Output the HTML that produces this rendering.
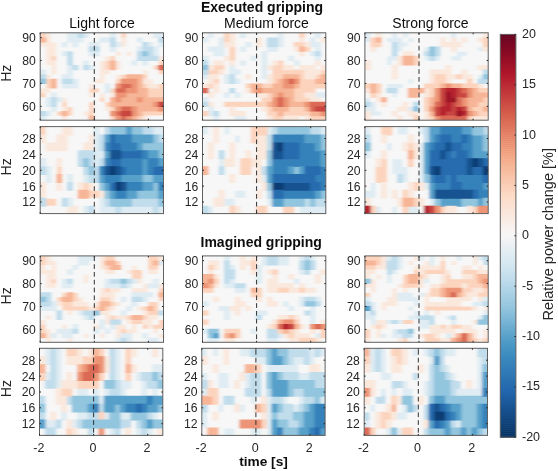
<!DOCTYPE html>
<html><head><meta charset="utf-8"><style>
html,body{margin:0;padding:0;background:#fff;width:558px;height:471px;overflow:hidden}
svg{display:block;filter:blur(0.45px)}
text{font-family:"Liberation Sans",sans-serif;fill:#262626}
</style></head><body>
<svg width="558" height="471" viewBox="0 0 558 471">
<defs><filter id="bl" x="-5%" y="-5%" width="110%" height="110%"><feGaussianBlur stdDeviation="1.4 0.45"/></filter></defs>
<g><clipPath id="cp00"><rect x="40.20" y="32.80" width="123.30" height="87.40"/></clipPath><g clip-path="url(#cp00)"><g filter="url(#bl)"><g transform="translate(40.20 32.80) scale(5.3609 4.6000)"><path fill="#fcd4be" d="M-1 -1h2.12v2.12h-2.12zM15 -1h1.12v2.12h-1.12zM2 5h1.12v1.12h-1.12zM13 5h1.12v1.12h-1.12zM12 6h1.12v1.12h-1.12zM22 6h2.12v1.12h-2.12zM12 7h1.12v1.12h-1.12zM21 7h1.12v1.12h-1.12zM22 8h2.12v1.12h-2.12zM15 9h1.12v1.12h-1.12zM19 9h1.12v1.12h-1.12zM1 10h1.12v1.12h-1.12zM14 10h1.12v1.12h-1.12zM1 11h1.12v1.12h-1.12zM19 11h1.12v1.12h-1.12zM22 11h2.12v1.12h-2.12zM9 12h2.12v1.12h-2.12zM13 12h1.12v1.12h-1.12zM20 12h4.12v1.12h-4.12zM-1 13h2.12v1.12h-2.12zM20 13h4.12v1.12h-4.12zM11 14h1.12v1.12h-1.12zM4 15h1.12v1.12h-1.12zM9 15h1.12v1.12h-1.12zM12 15h1.12v1.12h-1.12zM5 16h1.12v1.12h-1.12zM9 16h1.12v1.12h-1.12zM13 16h1.12v1.12h-1.12zM3 17h1.12v1.12h-1.12zM5 17h1.12v1.12h-1.12zM9 17h1.12v1.12h-1.12zM19 17h5.12v1.12h-5.12zM13 18h1.12v2.12h-1.12zM18 18h1.12v2.12h-1.12z"/><path fill="#fae8dd" d="M1 -1h1.12v2.12h-1.12zM1 1h1.12v1.12h-1.12zM15 1h1.12v1.12h-1.12zM-1 2h4.12v1.12h-4.12zM15 2h1.12v1.12h-1.12zM1 3h2.12v1.12h-2.12zM1 4h2.12v1.12h-2.12zM14 4h1.12v1.12h-1.12zM16 4h1.12v1.12h-1.12zM1 5h1.12v1.12h-1.12zM12 5h1.12v1.12h-1.12zM22 5h2.12v1.12h-2.12zM1 6h2.12v1.12h-2.12zM11 6h1.12v1.12h-1.12zM14 6h1.12v1.12h-1.12zM2 7h1.12v1.12h-1.12zM11 7h1.12v1.12h-1.12zM14 7h1.12v1.12h-1.12zM2 8h1.12v1.12h-1.12zM11 8h2.12v1.12h-2.12zM19 8h1.12v1.12h-1.12zM1 9h1.12v1.12h-1.12zM11 9h1.12v1.12h-1.12zM14 9h1.12v1.12h-1.12zM10 10h2.12v1.12h-2.12zM19 10h2.12v1.12h-2.12zM9 11h1.12v1.12h-1.12zM20 11h2.12v1.12h-2.12zM-1 12h3.12v1.12h-3.12zM9 13h1.12v1.12h-1.12zM11 13h1.12v1.12h-1.12zM13 13h1.12v1.12h-1.12zM4 14h1.12v1.12h-1.12zM4 16h1.12v1.12h-1.12zM12 16h1.12v1.12h-1.12zM8 17h1.12v1.12h-1.12zM4 18h1.12v2.12h-1.12zM19 18h1.12v2.12h-1.12z"/><path fill="#f7f7f7" d="M2 -1h3.12v2.12h-3.12zM9 -1h4.12v2.12h-4.12zM14 -1h1.12v2.12h-1.12zM16 -1h5.12v2.12h-5.12zM2 1h3.12v1.12h-3.12zM8 1h3.12v1.12h-3.12zM14 1h1.12v1.12h-1.12zM16 1h2.12v1.12h-2.12zM19 1h3.12v1.12h-3.12zM3 2h1.12v1.12h-1.12zM5 2h1.12v1.12h-1.12zM7 2h2.12v1.12h-2.12zM11 2h2.12v1.12h-2.12zM16 2h3.12v1.12h-3.12zM21 2h1.12v1.12h-1.12zM-1 3h2.12v1.12h-2.12zM3 3h6.12v1.12h-6.12zM11 3h2.12v1.12h-2.12zM14 3h4.12v1.12h-4.12zM22 3h2.12v1.12h-2.12zM-1 4h2.12v1.12h-2.12zM3 4h1.12v1.12h-1.12zM6 4h3.12v1.12h-3.12zM11 4h3.12v1.12h-3.12zM15 4h1.12v1.12h-1.12zM17 4h1.12v1.12h-1.12zM22 4h2.12v1.12h-2.12zM-1 5h2.12v1.12h-2.12zM3 5h2.12v1.12h-2.12zM6 5h6.12v1.12h-6.12zM14 5h4.12v1.12h-4.12zM-1 6h2.12v1.12h-2.12zM3 6h2.12v1.12h-2.12zM6 6h2.12v1.12h-2.12zM9 6h2.12v1.12h-2.12zM15 6h2.12v1.12h-2.12zM18 6h1.12v1.12h-1.12zM20 6h2.12v1.12h-2.12zM-1 7h3.12v1.12h-3.12zM3 7h2.12v1.12h-2.12zM7 7h1.12v1.12h-1.12zM10 7h1.12v1.12h-1.12zM15 7h6.12v1.12h-6.12zM1 8h1.12v1.12h-1.12zM3 8h2.12v1.12h-2.12zM6 8h5.12v1.12h-5.12zM13 8h6.12v1.12h-6.12zM20 8h2.12v1.12h-2.12zM2 9h2.12v1.12h-2.12zM6 9h5.12v1.12h-5.12zM12 9h2.12v1.12h-2.12zM20 9h4.12v1.12h-4.12zM3 10h1.12v1.12h-1.12zM7 10h3.12v1.12h-3.12zM12 10h2.12v1.12h-2.12zM21 10h3.12v1.12h-3.12zM-1 11h2.12v1.12h-2.12zM3 11h1.12v1.12h-1.12zM7 11h2.12v1.12h-2.12zM10 11h2.12v1.12h-2.12zM13 11h1.12v1.12h-1.12zM2 12h7.12v1.12h-7.12zM11 12h1.12v1.12h-1.12zM1 13h1.12v1.12h-1.12zM3 13h6.12v1.12h-6.12zM10 13h1.12v1.12h-1.12zM12 13h1.12v1.12h-1.12zM-1 14h2.12v1.12h-2.12zM5 14h6.12v1.12h-6.12zM12 14h1.12v1.12h-1.12zM-1 15h2.12v1.12h-2.12zM3 15h1.12v1.12h-1.12zM5 15h4.12v1.12h-4.12zM10 15h2.12v1.12h-2.12zM-1 16h3.12v1.12h-3.12zM3 16h1.12v1.12h-1.12zM6 16h3.12v1.12h-3.12zM10 16h2.12v1.12h-2.12zM2 17h1.12v1.12h-1.12zM6 17h2.12v1.12h-2.12zM10 17h3.12v1.12h-3.12zM1 18h3.12v2.12h-3.12zM5 18h4.12v2.12h-4.12zM10 18h3.12v2.12h-3.12zM20 18h4.12v2.12h-4.12z"/><path fill="#dfecf3" d="M5 -1h2.12v2.12h-2.12zM8 -1h1.12v2.12h-1.12zM13 -1h1.12v2.12h-1.12zM21 -1h3.12v2.12h-3.12zM5 1h3.12v1.12h-3.12zM11 1h2.12v1.12h-2.12zM18 1h1.12v1.12h-1.12zM4 2h1.12v1.12h-1.12zM6 2h1.12v1.12h-1.12zM9 2h2.12v1.12h-2.12zM14 2h1.12v1.12h-1.12zM20 2h1.12v1.12h-1.12zM22 2h2.12v1.12h-2.12zM13 3h1.12v1.12h-1.12zM18 3h1.12v1.12h-1.12zM21 3h1.12v1.12h-1.12zM4 4h1.12v1.12h-1.12zM9 4h2.12v1.12h-2.12zM21 4h1.12v1.12h-1.12zM8 6h1.12v1.12h-1.12zM17 6h1.12v1.12h-1.12zM19 6h1.12v1.12h-1.12zM5 7h1.12v1.12h-1.12zM9 7h1.12v1.12h-1.12zM-1 8h2.12v1.12h-2.12zM5 8h1.12v1.12h-1.12zM4 9h2.12v1.12h-2.12zM6 10h1.12v1.12h-1.12zM4 11h3.12v1.12h-3.12zM12 11h1.12v1.12h-1.12zM12 12h1.12v1.12h-1.12zM2 13h1.12v1.12h-1.12zM1 14h1.12v1.12h-1.12zM3 14h1.12v1.12h-1.12zM1 15h1.12v1.12h-1.12zM2 16h1.12v1.12h-1.12zM1 17h1.12v1.12h-1.12zM-1 18h2.12v2.12h-2.12z"/><path fill="#c1ddec" d="M7 -1h1.12v2.12h-1.12zM13 1h1.12v1.12h-1.12zM22 1h2.12v1.12h-2.12zM13 2h1.12v1.12h-1.12zM19 2h1.12v1.12h-1.12zM9 3h2.12v1.12h-2.12zM19 3h2.12v1.12h-2.12zM5 4h1.12v1.12h-1.12zM18 4h1.12v1.12h-1.12zM20 4h1.12v1.12h-1.12zM5 5h1.12v1.12h-1.12zM18 5h4.12v1.12h-4.12zM5 6h1.12v1.12h-1.12zM6 7h1.12v1.12h-1.12zM8 7h1.12v1.12h-1.12zM-1 9h2.12v1.12h-2.12zM4 10h2.12v1.12h-2.12zM2 14h1.12v1.12h-1.12zM2 15h1.12v1.12h-1.12zM-1 17h2.12v1.12h-2.12z"/><path fill="#f7b597" d="M-1 1h2.12v1.12h-2.12zM13 6h1.12v1.12h-1.12zM13 7h1.12v1.12h-1.12zM16 9h3.12v1.12h-3.12zM2 10h1.12v1.12h-1.12zM18 10h1.12v1.12h-1.12zM2 11h1.12v1.12h-1.12zM18 11h1.12v1.12h-1.12zM18 12h2.12v1.12h-2.12zM16 13h4.12v1.12h-4.12zM13 14h1.12v1.12h-1.12zM15 14h3.12v1.12h-3.12zM19 14h5.12v1.12h-5.12zM13 15h8.12v1.12h-8.12zM18 16h4.12v1.12h-4.12zM4 17h1.12v1.12h-1.12zM18 17h1.12v1.12h-1.12zM9 18h1.12v2.12h-1.12zM17 18h1.12v2.12h-1.12z"/><path fill="#92c5de" d="M19 4h1.12v1.12h-1.12zM-1 10h2.12v1.12h-2.12z"/><path fill="#da6954" d="M22 7h2.12v1.12h-2.12zM15 11h2.12v1.12h-2.12zM14 12h2.12v1.12h-2.12zM15 16h2.12v1.12h-2.12zM14 17h1.12v1.12h-1.12zM15 18h1.12v2.12h-1.12z"/><path fill="#ec9475" d="M15 10h3.12v1.12h-3.12zM14 11h1.12v1.12h-1.12zM17 11h1.12v1.12h-1.12zM16 12h2.12v1.12h-2.12zM14 13h2.12v1.12h-2.12zM14 14h1.12v1.12h-1.12zM18 14h1.12v1.12h-1.12zM21 15h1.12v1.12h-1.12zM14 16h1.12v1.12h-1.12zM17 16h1.12v1.12h-1.12zM22 16h2.12v1.12h-2.12zM13 17h1.12v1.12h-1.12zM17 17h1.12v1.12h-1.12zM14 18h1.12v2.12h-1.12zM16 18h1.12v2.12h-1.12z"/><path fill="#c84540" d="M22 15h2.12v1.12h-2.12zM15 17h2.12v1.12h-2.12z"/></g></g></g><clipPath id="cp01"><rect x="202.50" y="32.80" width="123.30" height="87.40"/></clipPath><g clip-path="url(#cp01)"><g filter="url(#bl)"><g transform="translate(202.50 32.80) scale(5.3609 4.6000)"><path fill="#f7f7f7" d="M-1 -1h2.12v2.12h-2.12zM2 -1h2.12v2.12h-2.12zM6 -1h1.12v2.12h-1.12zM8 -1h6.12v2.12h-6.12zM15 -1h3.12v2.12h-3.12zM19 -1h2.12v2.12h-2.12zM22 -1h2.12v2.12h-2.12zM1 1h2.12v1.12h-2.12zM6 1h4.12v1.12h-4.12zM11 1h1.12v1.12h-1.12zM15 1h3.12v1.12h-3.12zM19 1h1.12v1.12h-1.12zM21 1h1.12v1.12h-1.12zM-1 2h4.12v1.12h-4.12zM6 2h2.12v1.12h-2.12zM9 2h1.12v1.12h-1.12zM11 2h1.12v1.12h-1.12zM15 2h2.12v1.12h-2.12zM22 2h2.12v1.12h-2.12zM-1 3h2.12v1.12h-2.12zM4 3h1.12v1.12h-1.12zM6 3h1.12v1.12h-1.12zM8 3h4.12v1.12h-4.12zM14 3h3.12v1.12h-3.12zM20 3h1.12v1.12h-1.12zM22 3h2.12v1.12h-2.12zM-1 4h3.12v1.12h-3.12zM4 4h1.12v1.12h-1.12zM6 4h5.12v1.12h-5.12zM12 4h6.12v1.12h-6.12zM19 4h1.12v1.12h-1.12zM22 4h2.12v1.12h-2.12zM1 5h3.12v1.12h-3.12zM6 5h3.12v1.12h-3.12zM10 5h1.12v1.12h-1.12zM12 5h4.12v1.12h-4.12zM17 5h4.12v1.12h-4.12zM22 5h2.12v1.12h-2.12zM1 6h1.12v1.12h-1.12zM4 6h1.12v1.12h-1.12zM6 6h1.12v1.12h-1.12zM8 6h3.12v1.12h-3.12zM12 6h1.12v1.12h-1.12zM15 6h2.12v1.12h-2.12zM18 6h3.12v1.12h-3.12zM22 6h2.12v1.12h-2.12zM4 7h1.12v1.12h-1.12zM6 7h5.12v1.12h-5.12zM17 7h1.12v1.12h-1.12zM21 7h1.12v1.12h-1.12zM4 8h1.12v1.12h-1.12zM7 8h4.12v1.12h-4.12zM12 8h1.12v1.12h-1.12zM3 9h1.12v1.12h-1.12zM6 9h2.12v1.12h-2.12zM9 9h2.12v1.12h-2.12zM-1 10h2.12v1.12h-2.12zM3 10h1.12v1.12h-1.12zM7 10h5.12v1.12h-5.12zM3 11h5.12v1.12h-5.12zM1 12h1.12v1.12h-1.12zM3 12h2.12v1.12h-2.12zM6 12h2.12v1.12h-2.12zM21 12h3.12v1.12h-3.12zM-1 13h2.12v1.12h-2.12zM2 13h2.12v1.12h-2.12zM5 13h1.12v1.12h-1.12zM7 13h3.12v1.12h-3.12zM1 14h10.12v1.12h-10.12zM22 14h2.12v1.12h-2.12zM2 15h2.12v1.12h-2.12zM-1 16h2.12v1.12h-2.12zM2 16h3.12v1.12h-3.12zM6 16h5.12v1.12h-5.12zM3 17h2.12v1.12h-2.12zM8 17h4.12v1.12h-4.12zM-1 18h3.12v2.12h-3.12zM3 18h3.12v2.12h-3.12zM8 18h4.12v2.12h-4.12zM18 18h1.12v2.12h-1.12z"/><path fill="#dfecf3" d="M1 -1h1.12v2.12h-1.12zM7 -1h1.12v2.12h-1.12zM14 -1h1.12v2.12h-1.12zM21 -1h1.12v2.12h-1.12zM-1 1h2.12v1.12h-2.12zM3 1h1.12v1.12h-1.12zM14 1h1.12v1.12h-1.12zM20 1h1.12v1.12h-1.12zM3 2h1.12v1.12h-1.12zM8 2h1.12v1.12h-1.12zM14 2h1.12v1.12h-1.12zM20 2h2.12v1.12h-2.12zM1 3h3.12v1.12h-3.12zM7 3h1.12v1.12h-1.12zM12 3h2.12v1.12h-2.12zM21 3h1.12v1.12h-1.12zM2 4h2.12v1.12h-2.12zM11 4h1.12v1.12h-1.12zM20 4h1.12v1.12h-1.12zM-1 5h2.12v1.12h-2.12zM9 5h1.12v1.12h-1.12zM11 5h1.12v1.12h-1.12zM16 5h1.12v1.12h-1.12zM21 5h1.12v1.12h-1.12zM7 6h1.12v1.12h-1.12zM11 6h1.12v1.12h-1.12zM17 6h1.12v1.12h-1.12zM5 7h1.12v1.12h-1.12zM11 7h1.12v1.12h-1.12zM5 8h2.12v1.12h-2.12zM11 8h1.12v1.12h-1.12zM-1 9h2.12v1.12h-2.12zM4 9h1.12v1.12h-1.12zM11 9h1.12v1.12h-1.12zM4 10h1.12v1.12h-1.12zM6 10h1.12v1.12h-1.12zM4 13h1.12v1.12h-1.12zM6 13h1.12v1.12h-1.12zM21 13h3.12v1.12h-3.12zM-1 14h2.12v1.12h-2.12zM1 16h1.12v1.12h-1.12zM1 17h1.12v1.12h-1.12zM2 18h1.12v2.12h-1.12zM6 18h2.12v2.12h-2.12z"/><path fill="#fcd4be" d="M4 -1h1.12v2.12h-1.12zM18 -1h1.12v2.12h-1.12zM4 1h1.12v1.12h-1.12zM17 2h2.12v1.12h-2.12zM5 3h1.12v1.12h-1.12zM19 3h1.12v1.12h-1.12zM5 4h1.12v1.12h-1.12zM5 5h1.12v1.12h-1.12zM14 6h1.12v1.12h-1.12zM2 7h2.12v1.12h-2.12zM13 7h2.12v1.12h-2.12zM1 8h2.12v1.12h-2.12zM13 8h6.12v1.12h-6.12zM22 8h2.12v1.12h-2.12zM13 9h2.12v1.12h-2.12zM18 9h1.12v1.12h-1.12zM21 9h1.12v1.12h-1.12zM2 10h1.12v1.12h-1.12zM13 10h1.12v1.12h-1.12zM18 10h3.12v1.12h-3.12zM1 11h1.12v1.12h-1.12zM8 11h1.12v1.12h-1.12zM11 11h2.12v1.12h-2.12zM18 11h6.12v1.12h-6.12zM17 12h4.12v1.12h-4.12zM12 13h1.12v1.12h-1.12zM17 13h2.12v1.12h-2.12zM11 14h2.12v1.12h-2.12zM17 14h3.12v1.12h-3.12zM4 15h8.12v1.12h-8.12zM12 16h1.12v1.12h-1.12zM16 16h3.12v1.12h-3.12zM-1 17h2.12v1.12h-2.12zM12 17h2.12v1.12h-2.12zM15 17h5.12v1.12h-5.12zM13 18h2.12v2.12h-2.12zM20 18h4.12v2.12h-4.12z"/><path fill="#fae8dd" d="M5 -1h1.12v2.12h-1.12zM5 1h1.12v1.12h-1.12zM10 1h1.12v1.12h-1.12zM18 1h1.12v1.12h-1.12zM22 1h2.12v1.12h-2.12zM4 2h2.12v1.12h-2.12zM10 2h1.12v1.12h-1.12zM19 2h1.12v1.12h-1.12zM17 3h1.12v1.12h-1.12zM18 4h1.12v1.12h-1.12zM4 5h1.12v1.12h-1.12zM2 6h2.12v1.12h-2.12zM5 6h1.12v1.12h-1.12zM13 6h1.12v1.12h-1.12zM21 6h1.12v1.12h-1.12zM1 7h1.12v1.12h-1.12zM12 7h1.12v1.12h-1.12zM15 7h2.12v1.12h-2.12zM18 7h3.12v1.12h-3.12zM22 7h2.12v1.12h-2.12zM3 8h1.12v1.12h-1.12zM19 8h3.12v1.12h-3.12zM1 9h2.12v1.12h-2.12zM8 9h1.12v1.12h-1.12zM12 9h1.12v1.12h-1.12zM19 9h2.12v1.12h-2.12zM1 10h1.12v1.12h-1.12zM12 10h1.12v1.12h-1.12zM-1 11h2.12v1.12h-2.12zM2 11h1.12v1.12h-1.12zM2 12h1.12v1.12h-1.12zM8 12h1.12v1.12h-1.12zM1 13h1.12v1.12h-1.12zM10 13h2.12v1.12h-2.12zM19 13h2.12v1.12h-2.12zM20 14h2.12v1.12h-2.12zM1 15h1.12v1.12h-1.12zM5 16h1.12v1.12h-1.12zM11 16h1.12v1.12h-1.12zM5 17h3.12v1.12h-3.12zM12 18h1.12v2.12h-1.12zM15 18h3.12v2.12h-3.12zM19 18h1.12v2.12h-1.12z"/><path fill="#c1ddec" d="M12 1h2.12v1.12h-2.12zM12 2h2.12v1.12h-2.12zM21 4h1.12v1.12h-1.12zM-1 6h2.12v1.12h-2.12zM-1 8h2.12v1.12h-2.12zM5 9h1.12v1.12h-1.12zM5 10h1.12v1.12h-1.12zM5 12h1.12v1.12h-1.12zM-1 15h2.12v1.12h-2.12zM2 17h1.12v1.12h-1.12z"/><path fill="#f7b597" d="M18 3h1.12v1.12h-1.12zM15 9h3.12v1.12h-3.12zM22 9h2.12v1.12h-2.12zM14 10h1.12v1.12h-1.12zM21 10h3.12v1.12h-3.12zM9 11h2.12v1.12h-2.12zM13 11h2.12v1.12h-2.12zM17 11h1.12v1.12h-1.12zM9 12h1.12v1.12h-1.12zM11 12h6.12v1.12h-6.12zM13 13h1.12v1.12h-1.12zM15 13h2.12v1.12h-2.12zM16 14h1.12v1.12h-1.12zM12 15h1.12v1.12h-1.12zM16 15h3.12v1.12h-3.12zM13 16h3.12v1.12h-3.12zM19 16h1.12v1.12h-1.12zM14 17h1.12v1.12h-1.12zM20 17h2.12v1.12h-2.12z"/><path fill="#92c5de" d="M-1 7h2.12v1.12h-2.12z"/><path fill="#ec9475" d="M15 10h1.12v1.12h-1.12zM17 10h1.12v1.12h-1.12zM15 11h2.12v1.12h-2.12zM10 12h1.12v1.12h-1.12zM14 13h1.12v1.12h-1.12zM13 14h1.12v1.12h-1.12zM15 14h1.12v1.12h-1.12zM13 15h1.12v1.12h-1.12zM15 15h1.12v1.12h-1.12zM19 15h1.12v1.12h-1.12zM22 17h2.12v1.12h-2.12z"/><path fill="#da6954" d="M16 10h1.12v1.12h-1.12zM-1 12h2.12v1.12h-2.12zM14 14h1.12v1.12h-1.12zM14 15h1.12v1.12h-1.12zM20 15h4.12v1.12h-4.12zM20 16h1.12v1.12h-1.12z"/><path fill="#c84540" d="M21 16h3.12v1.12h-3.12z"/></g></g></g><clipPath id="cp02"><rect x="364.90" y="32.80" width="123.30" height="87.40"/></clipPath><g clip-path="url(#cp02)"><g filter="url(#bl)"><g transform="translate(364.90 32.80) scale(5.3609 4.6000)"><path fill="#dfecf3" d="M-1 -1h2.12v2.12h-2.12zM5 -1h1.12v2.12h-1.12zM7 -1h1.12v2.12h-1.12zM16 -1h1.12v2.12h-1.12zM-1 1h2.12v1.12h-2.12zM4 1h3.12v1.12h-3.12zM8 1h1.12v1.12h-1.12zM6 2h2.12v1.12h-2.12zM6 3h1.12v1.12h-1.12zM11 3h1.12v1.12h-1.12zM21 3h1.12v1.12h-1.12zM17 4h2.12v1.12h-2.12zM4 5h2.12v1.12h-2.12zM11 5h1.12v1.12h-1.12zM13 5h1.12v1.12h-1.12zM16 5h2.12v1.12h-2.12zM4 6h1.12v1.12h-1.12zM21 9h1.12v1.12h-1.12zM8 10h1.12v1.12h-1.12zM4 11h3.12v1.12h-3.12zM5 13h1.12v1.12h-1.12zM-1 14h2.12v1.12h-2.12zM1 15h1.12v1.12h-1.12zM-1 16h3.12v1.12h-3.12zM8 16h1.12v1.12h-1.12zM1 17h2.12v1.12h-2.12z"/><path fill="#f7f7f7" d="M1 -1h1.12v2.12h-1.12zM3 -1h2.12v2.12h-2.12zM6 -1h1.12v2.12h-1.12zM8 -1h8.12v2.12h-8.12zM17 -1h5.12v2.12h-5.12zM3 1h1.12v1.12h-1.12zM7 1h1.12v1.12h-1.12zM9 1h5.12v1.12h-5.12zM15 1h1.12v1.12h-1.12zM17 1h1.12v1.12h-1.12zM19 1h2.12v1.12h-2.12zM-1 2h2.12v1.12h-2.12zM3 2h2.12v1.12h-2.12zM8 2h6.12v1.12h-6.12zM18 2h4.12v1.12h-4.12zM-1 3h2.12v1.12h-2.12zM2 3h3.12v1.12h-3.12zM7 3h4.12v1.12h-4.12zM14 3h2.12v1.12h-2.12zM17 3h4.12v1.12h-4.12zM-1 4h6.12v1.12h-6.12zM6 4h1.12v1.12h-1.12zM9 4h2.12v1.12h-2.12zM14 4h3.12v1.12h-3.12zM19 4h5.12v1.12h-5.12zM-1 5h5.12v1.12h-5.12zM10 5h1.12v1.12h-1.12zM14 5h2.12v1.12h-2.12zM18 5h6.12v1.12h-6.12zM1 6h3.12v1.12h-3.12zM5 6h1.12v1.12h-1.12zM10 6h14.12v1.12h-14.12zM1 7h4.12v1.12h-4.12zM6 7h9.12v1.12h-9.12zM16 7h5.12v1.12h-5.12zM-1 8h6.12v1.12h-6.12zM6 8h6.12v1.12h-6.12zM16 8h2.12v1.12h-2.12zM19 8h3.12v1.12h-3.12zM-1 9h6.12v1.12h-6.12zM6 9h6.12v1.12h-6.12zM20 9h1.12v1.12h-1.12zM-1 10h9.12v1.12h-9.12zM9 10h3.12v1.12h-3.12zM16 10h3.12v1.12h-3.12zM20 10h1.12v1.12h-1.12zM3 11h1.12v1.12h-1.12zM7 11h4.12v1.12h-4.12zM22 11h2.12v1.12h-2.12zM3 12h1.12v1.12h-1.12zM6 12h2.12v1.12h-2.12zM-1 13h2.12v1.12h-2.12zM3 13h2.12v1.12h-2.12zM6 13h2.12v1.12h-2.12zM10 13h1.12v1.12h-1.12zM1 14h1.12v1.12h-1.12zM4 14h7.12v1.12h-7.12zM2 15h1.12v1.12h-1.12zM4 15h3.12v1.12h-3.12zM8 15h1.12v1.12h-1.12zM10 15h1.12v1.12h-1.12zM2 16h4.12v1.12h-4.12zM10 16h1.12v1.12h-1.12zM3 17h2.12v1.12h-2.12zM6 17h2.12v1.12h-2.12zM10 17h1.12v1.12h-1.12zM1 18h5.12v2.12h-5.12zM7 18h2.12v2.12h-2.12zM10 18h1.12v2.12h-1.12z"/><path fill="#fae8dd" d="M2 -1h1.12v2.12h-1.12zM22 -1h2.12v2.12h-2.12zM14 1h1.12v1.12h-1.12zM16 1h1.12v1.12h-1.12zM18 1h1.12v1.12h-1.12zM21 1h1.12v1.12h-1.12zM14 2h4.12v1.12h-4.12zM1 3h1.12v1.12h-1.12zM16 3h1.12v1.12h-1.12zM22 3h2.12v1.12h-2.12zM7 4h2.12v1.12h-2.12zM6 5h1.12v1.12h-1.12zM-1 6h2.12v1.12h-2.12zM6 6h1.12v1.12h-1.12zM-1 7h2.12v1.12h-2.12zM5 7h1.12v1.12h-1.12zM15 7h1.12v1.12h-1.12zM21 7h3.12v1.12h-3.12zM5 8h1.12v1.12h-1.12zM12 8h4.12v1.12h-4.12zM18 8h1.12v1.12h-1.12zM5 9h1.12v1.12h-1.12zM12 9h1.12v1.12h-1.12zM15 9h2.12v1.12h-2.12zM18 9h2.12v1.12h-2.12zM12 10h1.12v1.12h-1.12zM15 10h1.12v1.12h-1.12zM21 11h1.12v1.12h-1.12zM-1 12h2.12v1.12h-2.12zM11 12h1.12v1.12h-1.12zM2 13h1.12v1.12h-1.12zM11 13h1.12v1.12h-1.12zM2 14h1.12v1.12h-1.12zM3 15h1.12v1.12h-1.12zM7 15h1.12v1.12h-1.12zM6 16h2.12v1.12h-2.12zM-1 17h2.12v1.12h-2.12zM5 17h1.12v1.12h-1.12zM8 17h2.12v1.12h-2.12zM11 17h1.12v1.12h-1.12zM-1 18h2.12v2.12h-2.12zM6 18h1.12v2.12h-1.12zM11 18h1.12v2.12h-1.12zM20 18h4.12v2.12h-4.12z"/><path fill="#fcd4be" d="M1 1h1.12v1.12h-1.12zM22 1h2.12v1.12h-2.12zM1 2h2.12v1.12h-2.12zM22 2h2.12v1.12h-2.12zM9 5h1.12v1.12h-1.12zM9 6h1.12v1.12h-1.12zM13 9h2.12v1.12h-2.12zM17 9h1.12v1.12h-1.12zM13 10h2.12v1.12h-2.12zM19 10h1.12v1.12h-1.12zM-1 11h2.12v1.12h-2.12zM2 11h1.12v1.12h-1.12zM11 11h3.12v1.12h-3.12zM18 11h3.12v1.12h-3.12zM2 12h1.12v1.12h-1.12zM12 12h1.12v1.12h-1.12zM21 12h3.12v1.12h-3.12zM1 13h1.12v1.12h-1.12zM12 13h1.12v1.12h-1.12zM11 14h1.12v1.12h-1.12zM22 14h2.12v1.12h-2.12zM11 15h1.12v1.12h-1.12zM21 15h3.12v1.12h-3.12zM11 16h1.12v1.12h-1.12zM20 16h2.12v1.12h-2.12zM21 17h3.12v1.12h-3.12zM9 18h1.12v2.12h-1.12zM12 18h1.12v2.12h-1.12zM19 18h1.12v2.12h-1.12z"/><path fill="#f7b597" d="M2 1h1.12v1.12h-1.12zM7 5h2.12v1.12h-2.12zM7 6h2.12v1.12h-2.12zM1 11h1.12v1.12h-1.12zM14 11h1.12v1.12h-1.12zM16 11h2.12v1.12h-2.12zM1 12h1.12v1.12h-1.12zM8 12h3.12v1.12h-3.12zM20 12h1.12v1.12h-1.12zM8 13h2.12v1.12h-2.12zM20 13h4.12v1.12h-4.12zM3 14h1.12v1.12h-1.12zM12 14h1.12v1.12h-1.12zM19 14h3.12v1.12h-3.12zM12 15h1.12v1.12h-1.12zM19 15h2.12v1.12h-2.12zM19 16h1.12v1.12h-1.12zM22 16h2.12v1.12h-2.12zM12 17h1.12v1.12h-1.12zM20 17h1.12v1.12h-1.12z"/><path fill="#c1ddec" d="M5 2h1.12v1.12h-1.12zM5 3h1.12v1.12h-1.12zM13 3h1.12v1.12h-1.12zM5 4h1.12v1.12h-1.12zM11 4h1.12v1.12h-1.12zM13 4h1.12v1.12h-1.12zM12 5h1.12v1.12h-1.12zM22 8h2.12v1.12h-2.12zM21 10h3.12v1.12h-3.12zM4 12h2.12v1.12h-2.12zM-1 15h2.12v1.12h-2.12zM9 15h1.12v1.12h-1.12z"/><path fill="#92c5de" d="M12 3h1.12v1.12h-1.12zM12 4h1.12v1.12h-1.12zM22 9h2.12v1.12h-2.12zM9 16h1.12v1.12h-1.12z"/><path fill="#ec9475" d="M15 11h1.12v1.12h-1.12zM13 12h1.12v1.12h-1.12zM19 12h1.12v1.12h-1.12zM13 13h1.12v1.12h-1.12zM19 13h1.12v1.12h-1.12zM13 14h1.12v1.12h-1.12zM18 14h1.12v1.12h-1.12zM18 15h1.12v1.12h-1.12zM12 16h1.12v1.12h-1.12zM19 17h1.12v1.12h-1.12zM13 18h1.12v2.12h-1.12z"/><path fill="#c84540" d="M14 12h1.12v1.12h-1.12zM17 12h1.12v1.12h-1.12zM14 13h1.12v1.12h-1.12zM17 13h2.12v1.12h-2.12zM14 14h1.12v1.12h-1.12zM14 15h1.12v1.12h-1.12zM16 15h1.12v1.12h-1.12zM13 16h1.12v1.12h-1.12zM16 16h1.12v1.12h-1.12zM18 16h1.12v1.12h-1.12zM13 17h1.12v1.12h-1.12zM15 17h2.12v1.12h-2.12z"/><path fill="#b6212f" d="M15 12h2.12v1.12h-2.12zM16 13h1.12v1.12h-1.12zM15 15h1.12v1.12h-1.12zM14 16h2.12v1.12h-2.12zM17 16h1.12v1.12h-1.12zM14 17h1.12v1.12h-1.12zM18 17h1.12v1.12h-1.12z"/><path fill="#da6954" d="M18 12h1.12v1.12h-1.12zM17 14h1.12v1.12h-1.12zM13 15h1.12v1.12h-1.12zM17 15h1.12v1.12h-1.12zM14 18h5.12v2.12h-5.12z"/><path fill="#9f1228" d="M15 13h1.12v1.12h-1.12zM15 14h2.12v1.12h-2.12zM17 17h1.12v1.12h-1.12z"/></g></g></g><clipPath id="cp10"><rect x="40.20" y="126.60" width="123.30" height="87.00"/></clipPath><g clip-path="url(#cp10)"><g filter="url(#bl)"><g transform="translate(40.20 126.60) scale(5.3609 7.9091)"><path fill="#fcd4be" d="M-1 -1h2.12v2.12h-2.12zM3 5h1.12v1.12h-1.12zM8 7h1.12v1.12h-1.12zM9 8h2.12v1.12h-2.12zM1 9h2.12v1.12h-2.12z"/><path fill="#f7f7f7" d="M1 -1h3.12v2.12h-3.12zM6 -1h4.12v2.12h-4.12zM11 -1h1.12v2.12h-1.12zM1 1h2.12v1.12h-2.12zM5 1h4.12v1.12h-4.12zM-1 2h2.12v1.12h-2.12zM5 2h3.12v1.12h-3.12zM-1 3h8.12v1.12h-8.12zM1 4h2.12v1.12h-2.12zM4 4h3.12v1.12h-3.12zM2 5h1.12v1.12h-1.12zM4 5h4.12v1.12h-4.12zM-1 6h2.12v1.12h-2.12zM2 6h1.12v1.12h-1.12zM4 6h1.12v1.12h-1.12zM6 6h2.12v1.12h-2.12zM1 7h2.12v1.12h-2.12zM4 7h1.12v1.12h-1.12zM6 7h1.12v1.12h-1.12zM10 7h1.12v1.12h-1.12zM1 8h6.12v1.12h-6.12zM3 9h1.12v1.12h-1.12zM6 9h5.12v1.12h-5.12zM-1 10h6.12v2.12h-6.12zM7 10h1.12v2.12h-1.12zM10 10h1.12v2.12h-1.12z"/><path fill="#fae8dd" d="M4 -1h2.12v2.12h-2.12zM-1 1h2.12v1.12h-2.12zM3 1h2.12v1.12h-2.12zM9 1h1.12v1.12h-1.12zM1 2h4.12v1.12h-4.12zM8 2h2.12v1.12h-2.12zM3 4h1.12v1.12h-1.12zM-1 7h2.12v1.12h-2.12zM3 7h1.12v1.12h-1.12zM7 7h1.12v1.12h-1.12zM9 7h1.12v1.12h-1.12zM-1 8h2.12v1.12h-2.12zM11 8h1.12v1.12h-1.12zM5 10h2.12v2.12h-2.12z"/><path fill="#dfecf3" d="M10 -1h1.12v2.12h-1.12zM21 -1h3.12v2.12h-3.12zM10 1h1.12v1.12h-1.12zM10 2h1.12v1.12h-1.12zM10 3h2.12v1.12h-2.12zM-1 4h2.12v1.12h-2.12zM10 4h1.12v1.12h-1.12zM1 5h1.12v1.12h-1.12zM1 6h1.12v1.12h-1.12zM5 6h1.12v1.12h-1.12zM8 6h1.12v1.12h-1.12zM5 9h1.12v1.12h-1.12zM11 9h1.12v1.12h-1.12zM8 10h1.12v2.12h-1.12zM11 10h3.12v2.12h-3.12zM15 10h6.12v2.12h-6.12zM22 10h2.12v2.12h-2.12z"/><path fill="#c1ddec" d="M12 -1h1.12v2.12h-1.12zM19 -1h2.12v2.12h-2.12zM11 1h1.12v1.12h-1.12zM22 1h2.12v1.12h-2.12zM11 2h1.12v1.12h-1.12zM7 3h3.12v1.12h-3.12zM7 4h1.12v1.12h-1.12zM9 4h1.12v1.12h-1.12zM11 4h1.12v1.12h-1.12zM-1 5h2.12v1.12h-2.12zM8 5h1.12v1.12h-1.12zM10 5h1.12v1.12h-1.12zM9 6h2.12v1.12h-2.12zM5 7h1.12v1.12h-1.12zM-1 9h2.12v1.12h-2.12zM4 9h1.12v1.12h-1.12zM12 9h1.12v1.12h-1.12zM17 9h5.12v1.12h-5.12zM9 10h1.12v2.12h-1.12zM14 10h1.12v2.12h-1.12zM21 10h1.12v2.12h-1.12z"/><path fill="#92c5de" d="M13 -1h3.12v2.12h-3.12zM17 -1h2.12v2.12h-2.12zM21 1h1.12v1.12h-1.12zM19 2h5.12v1.12h-5.12zM22 3h2.12v1.12h-2.12zM8 4h1.12v1.12h-1.12zM9 5h1.12v1.12h-1.12zM19 6h2.12v1.12h-2.12zM11 7h1.12v1.12h-1.12zM21 7h1.12v1.12h-1.12zM12 8h1.12v1.12h-1.12zM18 8h4.12v1.12h-4.12zM13 9h4.12v1.12h-4.12zM22 9h2.12v1.12h-2.12z"/><path fill="#57a0ca" d="M16 -1h1.12v2.12h-1.12zM12 1h1.12v1.12h-1.12zM17 1h4.12v1.12h-4.12zM18 2h1.12v1.12h-1.12zM12 3h1.12v1.12h-1.12zM20 3h2.12v1.12h-2.12zM19 4h1.12v1.12h-1.12zM22 4h2.12v1.12h-2.12zM19 5h1.12v1.12h-1.12zM11 6h1.12v1.12h-1.12zM15 6h4.12v1.12h-4.12zM21 6h3.12v1.12h-3.12zM12 7h1.12v1.12h-1.12zM19 7h2.12v1.12h-2.12zM13 8h1.12v1.12h-1.12zM16 8h2.12v1.12h-2.12zM22 8h2.12v1.12h-2.12z"/><path fill="#256caf" d="M13 1h1.12v1.12h-1.12zM13 2h2.12v1.12h-2.12zM15 3h4.12v1.12h-4.12zM13 4h2.12v1.12h-2.12zM15 5h1.12v1.12h-1.12zM21 5h3.12v1.12h-3.12zM13 7h1.12v1.12h-1.12z"/><path fill="#3682ba" d="M14 1h3.12v1.12h-3.12zM12 2h1.12v1.12h-1.12zM15 2h3.12v1.12h-3.12zM19 3h1.12v1.12h-1.12zM12 4h1.12v1.12h-1.12zM15 4h4.12v1.12h-4.12zM20 4h2.12v1.12h-2.12zM11 5h1.12v1.12h-1.12zM16 5h3.12v1.12h-3.12zM20 5h1.12v1.12h-1.12zM12 6h3.12v1.12h-3.12zM16 7h3.12v1.12h-3.12zM22 7h2.12v1.12h-2.12zM14 8h2.12v1.12h-2.12z"/><path fill="#165290" d="M13 3h2.12v1.12h-2.12zM12 5h1.12v1.12h-1.12zM14 5h1.12v1.12h-1.12zM15 7h1.12v1.12h-1.12z"/><path fill="#0c3e74" d="M13 5h1.12v1.12h-1.12zM14 7h1.12v1.12h-1.12z"/><path fill="#f7b597" d="M3 6h1.12v1.12h-1.12zM7 8h2.12v1.12h-2.12z"/></g></g></g><clipPath id="cp11"><rect x="202.50" y="126.60" width="123.30" height="87.00"/></clipPath><g clip-path="url(#cp11)"><g filter="url(#bl)"><g transform="translate(202.50 126.60) scale(5.3609 7.9091)"><path fill="#dfecf3" d="M-1 -1h2.12v2.12h-2.12zM4 -1h1.12v2.12h-1.12zM12 -1h1.12v2.12h-1.12zM22 -1h2.12v2.12h-2.12zM6 1h1.12v1.12h-1.12zM3 4h1.12v1.12h-1.12zM11 6h1.12v1.12h-1.12zM6 8h2.12v1.12h-2.12zM4 9h2.12v1.12h-2.12zM12 9h1.12v1.12h-1.12zM1 10h1.12v2.12h-1.12zM18 10h6.12v2.12h-6.12z"/><path fill="#f7f7f7" d="M1 -1h1.12v2.12h-1.12zM3 -1h1.12v2.12h-1.12zM5 -1h4.12v2.12h-4.12zM-1 1h3.12v1.12h-3.12zM3 1h3.12v1.12h-3.12zM7 1h2.12v1.12h-2.12zM-1 2h2.12v1.12h-2.12zM2 2h3.12v1.12h-3.12zM6 2h4.12v1.12h-4.12zM-1 3h2.12v1.12h-2.12zM2 3h1.12v1.12h-1.12zM4 3h1.12v1.12h-1.12zM6 3h2.12v1.12h-2.12zM9 3h1.12v1.12h-1.12zM-1 4h4.12v1.12h-4.12zM6 4h1.12v1.12h-1.12zM11 4h1.12v1.12h-1.12zM1 5h2.12v1.12h-2.12zM4 5h3.12v1.12h-3.12zM9 5h1.12v1.12h-1.12zM-1 6h6.12v1.12h-6.12zM6 6h4.12v1.12h-4.12zM-1 7h12.12v1.12h-12.12zM-1 8h4.12v1.12h-4.12zM4 8h2.12v1.12h-2.12zM8 8h2.12v1.12h-2.12zM11 8h1.12v1.12h-1.12zM-1 9h3.12v1.12h-3.12zM6 9h6.12v1.12h-6.12zM2 10h3.12v2.12h-3.12zM7 10h3.12v2.12h-3.12zM12 10h3.12v2.12h-3.12zM17 10h1.12v2.12h-1.12z"/><path fill="#fae8dd" d="M2 -1h1.12v2.12h-1.12zM2 1h1.12v1.12h-1.12zM10 1h2.12v1.12h-2.12zM1 2h1.12v1.12h-1.12zM5 2h1.12v1.12h-1.12zM10 2h2.12v1.12h-2.12zM1 3h1.12v1.12h-1.12zM5 3h1.12v1.12h-1.12zM8 3h1.12v1.12h-1.12zM10 3h2.12v1.12h-2.12zM4 4h2.12v1.12h-2.12zM9 4h2.12v1.12h-2.12zM10 5h1.12v1.12h-1.12zM5 6h1.12v1.12h-1.12zM10 6h1.12v1.12h-1.12zM11 7h1.12v1.12h-1.12zM3 8h1.12v1.12h-1.12zM10 8h1.12v1.12h-1.12zM2 9h2.12v1.12h-2.12zM6 10h1.12v2.12h-1.12z"/><path fill="#fcd4be" d="M9 -1h3.12v2.12h-3.12zM9 1h1.12v1.12h-1.12zM7 4h2.12v1.12h-2.12zM7 5h2.12v1.12h-2.12zM5 10h1.12v2.12h-1.12zM10 10h2.12v2.12h-2.12zM15 10h2.12v2.12h-2.12z"/><path fill="#c1ddec" d="M13 -1h1.12v2.12h-1.12zM20 -1h2.12v2.12h-2.12zM12 1h1.12v1.12h-1.12zM12 2h1.12v1.12h-1.12zM3 3h1.12v1.12h-1.12zM3 5h1.12v1.12h-1.12zM11 5h1.12v1.12h-1.12zM12 8h1.12v1.12h-1.12zM19 9h1.12v1.12h-1.12zM21 9h3.12v1.12h-3.12zM-1 10h2.12v2.12h-2.12z"/><path fill="#92c5de" d="M14 -1h6.12v2.12h-6.12zM22 1h2.12v1.12h-2.12zM22 2h2.12v1.12h-2.12zM12 3h1.12v1.12h-1.12zM12 4h1.12v1.12h-1.12zM17 5h1.12v1.12h-1.12zM12 7h1.12v1.12h-1.12zM22 8h2.12v1.12h-2.12zM15 9h4.12v1.12h-4.12zM20 9h1.12v1.12h-1.12z"/><path fill="#3682ba" d="M13 1h6.12v1.12h-6.12zM18 2h3.12v1.12h-3.12zM18 3h4.12v1.12h-4.12zM13 4h9.12v1.12h-9.12zM13 5h3.12v1.12h-3.12zM22 5h2.12v1.12h-2.12zM21 6h3.12v1.12h-3.12zM22 7h2.12v1.12h-2.12zM15 8h6.12v1.12h-6.12z"/><path fill="#57a0ca" d="M19 1h3.12v1.12h-3.12zM21 2h1.12v1.12h-1.12zM22 3h2.12v1.12h-2.12zM22 4h2.12v1.12h-2.12zM12 5h1.12v1.12h-1.12zM16 5h1.12v1.12h-1.12zM18 5h1.12v1.12h-1.12zM12 6h1.12v1.12h-1.12zM21 8h1.12v1.12h-1.12zM13 9h2.12v1.12h-2.12z"/><path fill="#165290" d="M13 2h1.12v1.12h-1.12zM13 3h2.12v1.12h-2.12zM15 7h5.12v1.12h-5.12z"/><path fill="#0c3e74" d="M14 2h1.12v1.12h-1.12zM13 7h2.12v1.12h-2.12z"/><path fill="#256caf" d="M15 2h3.12v1.12h-3.12zM15 3h3.12v1.12h-3.12zM19 5h3.12v1.12h-3.12zM13 6h8.12v1.12h-8.12zM20 7h2.12v1.12h-2.12zM13 8h2.12v1.12h-2.12z"/><path fill="#f7b597" d="M-1 5h2.12v1.12h-2.12z"/></g></g></g><clipPath id="cp12"><rect x="364.90" y="126.60" width="123.30" height="87.00"/></clipPath><g clip-path="url(#cp12)"><g filter="url(#bl)"><g transform="translate(364.90 126.60) scale(5.3609 7.9091)"><path fill="#dfecf3" d="M-1 -1h2.12v2.12h-2.12zM6 -1h2.12v2.12h-2.12zM10 -1h1.12v2.12h-1.12zM4 2h1.12v1.12h-1.12zM10 2h1.12v1.12h-1.12zM-1 3h2.12v1.12h-2.12zM10 3h1.12v1.12h-1.12zM5 4h2.12v1.12h-2.12zM10 4h1.12v1.12h-1.12zM5 5h3.12v1.12h-3.12zM10 5h1.12v1.12h-1.12zM7 6h1.12v1.12h-1.12zM10 6h1.12v1.12h-1.12zM1 7h1.12v1.12h-1.12zM11 7h1.12v1.12h-1.12zM-1 8h3.12v1.12h-3.12zM12 9h1.12v1.12h-1.12zM2 10h1.12v2.12h-1.12zM5 10h1.12v2.12h-1.12zM8 10h2.12v2.12h-2.12z"/><path fill="#f7f7f7" d="M1 -1h2.12v2.12h-2.12zM5 -1h1.12v2.12h-1.12zM8 -1h2.12v2.12h-2.12zM1 1h2.12v1.12h-2.12zM4 1h4.12v1.12h-4.12zM9 1h2.12v1.12h-2.12zM1 2h3.12v1.12h-3.12zM5 2h2.12v1.12h-2.12zM1 3h2.12v1.12h-2.12zM4 3h4.12v1.12h-4.12zM-1 4h3.12v1.12h-3.12zM4 4h1.12v1.12h-1.12zM7 4h1.12v1.12h-1.12zM9 4h1.12v1.12h-1.12zM-1 5h3.12v1.12h-3.12zM4 5h1.12v1.12h-1.12zM8 5h2.12v1.12h-2.12zM-1 6h3.12v1.12h-3.12zM4 6h2.12v1.12h-2.12zM8 6h2.12v1.12h-2.12zM-1 7h2.12v1.12h-2.12zM2 7h1.12v1.12h-1.12zM4 7h4.12v1.12h-4.12zM2 8h1.12v1.12h-1.12zM4 8h1.12v1.12h-1.12zM6 8h1.12v1.12h-1.12zM9 8h3.12v1.12h-3.12zM1 9h5.12v1.12h-5.12zM11 9h1.12v1.12h-1.12zM3 10h2.12v2.12h-2.12zM6 10h1.12v2.12h-1.12zM10 10h1.12v2.12h-1.12zM17 10h2.12v2.12h-2.12z"/><path fill="#fcd4be" d="M3 -1h2.12v2.12h-2.12zM8 2h1.12v1.12h-1.12zM3 4h1.12v1.12h-1.12zM8 4h1.12v1.12h-1.12zM2 5h2.12v1.12h-2.12zM2 6h2.12v1.12h-2.12zM9 7h1.12v1.12h-1.12zM7 8h1.12v1.12h-1.12zM9 9h1.12v1.12h-1.12zM1 10h1.12v2.12h-1.12zM7 10h1.12v2.12h-1.12zM14 10h1.12v2.12h-1.12zM20 10h1.12v2.12h-1.12z"/><path fill="#c1ddec" d="M11 -1h1.12v2.12h-1.12zM22 -1h2.12v2.12h-2.12zM-1 1h2.12v1.12h-2.12zM11 1h1.12v1.12h-1.12zM6 6h1.12v1.12h-1.12z"/><path fill="#57a0ca" d="M12 -1h2.12v2.12h-2.12zM18 -1h2.12v2.12h-2.12zM12 1h1.12v1.12h-1.12zM20 1h2.12v1.12h-2.12zM11 2h1.12v1.12h-1.12zM20 2h2.12v1.12h-2.12zM11 3h1.12v1.12h-1.12zM20 3h4.12v1.12h-4.12zM11 4h1.12v1.12h-1.12zM11 5h1.12v1.12h-1.12zM12 7h1.12v1.12h-1.12zM22 7h2.12v1.12h-2.12zM12 8h1.12v1.12h-1.12zM14 9h4.12v1.12h-4.12zM21 9h1.12v1.12h-1.12z"/><path fill="#3682ba" d="M14 -1h4.12v2.12h-4.12zM13 1h1.12v1.12h-1.12zM16 1h2.12v1.12h-2.12zM19 1h1.12v1.12h-1.12zM12 2h1.12v1.12h-1.12zM18 2h2.12v1.12h-2.12zM16 3h1.12v1.12h-1.12zM19 3h1.12v1.12h-1.12zM12 6h1.12v1.12h-1.12zM15 6h1.12v1.12h-1.12zM17 6h5.12v1.12h-5.12zM13 7h3.12v1.12h-3.12zM18 7h4.12v1.12h-4.12zM21 8h3.12v1.12h-3.12z"/><path fill="#92c5de" d="M20 -1h2.12v2.12h-2.12zM22 1h2.12v1.12h-2.12zM-1 2h2.12v1.12h-2.12zM22 2h2.12v1.12h-2.12zM11 6h1.12v1.12h-1.12zM13 9h1.12v1.12h-1.12zM18 9h3.12v1.12h-3.12zM22 9h2.12v1.12h-2.12z"/><path fill="#fae8dd" d="M3 1h1.12v1.12h-1.12zM8 1h1.12v1.12h-1.12zM7 2h1.12v1.12h-1.12zM9 2h1.12v1.12h-1.12zM3 3h1.12v1.12h-1.12zM9 3h1.12v1.12h-1.12zM2 4h1.12v1.12h-1.12zM3 7h1.12v1.12h-1.12zM8 7h1.12v1.12h-1.12zM10 7h1.12v1.12h-1.12zM3 8h1.12v1.12h-1.12zM5 8h1.12v1.12h-1.12zM8 8h1.12v1.12h-1.12zM-1 9h2.12v1.12h-2.12zM6 9h1.12v1.12h-1.12zM10 9h1.12v1.12h-1.12zM15 10h2.12v2.12h-2.12zM19 10h1.12v2.12h-1.12z"/><path fill="#256caf" d="M14 1h2.12v1.12h-2.12zM18 1h1.12v1.12h-1.12zM13 2h2.12v1.12h-2.12zM16 2h2.12v1.12h-2.12zM12 3h2.12v1.12h-2.12zM15 3h1.12v1.12h-1.12zM17 3h2.12v1.12h-2.12zM12 4h7.12v1.12h-7.12zM22 4h2.12v1.12h-2.12zM14 5h5.12v1.12h-5.12zM20 5h2.12v1.12h-2.12zM13 6h2.12v1.12h-2.12zM16 6h1.12v1.12h-1.12zM22 6h2.12v1.12h-2.12zM16 7h2.12v1.12h-2.12zM20 8h1.12v1.12h-1.12z"/><path fill="#165290" d="M15 2h1.12v1.12h-1.12zM14 3h1.12v1.12h-1.12zM19 4h1.12v1.12h-1.12zM21 4h1.12v1.12h-1.12zM12 5h1.12v1.12h-1.12zM19 5h1.12v1.12h-1.12zM13 8h7.12v1.12h-7.12z"/><path fill="#f7b597" d="M8 3h1.12v1.12h-1.12zM7 9h2.12v1.12h-2.12z"/><path fill="#0c3e74" d="M20 4h1.12v1.12h-1.12zM13 5h1.12v1.12h-1.12zM22 5h2.12v1.12h-2.12z"/><path fill="#b6212f" d="M-1 10h2.12v2.12h-2.12zM11 10h1.12v2.12h-1.12z"/><path fill="#c84540" d="M12 10h1.12v2.12h-1.12z"/><path fill="#ec9475" d="M13 10h1.12v2.12h-1.12zM21 10h3.12v2.12h-3.12z"/></g></g></g><clipPath id="cp20"><rect x="40.20" y="255.90" width="123.30" height="86.40"/></clipPath><g clip-path="url(#cp20)"><g filter="url(#bl)"><g transform="translate(40.20 255.90) scale(5.3609 4.5474)"><path fill="#fcd4be" d="M-1 -1h2.12v2.12h-2.12zM12 -1h2.12v2.12h-2.12zM20 -1h2.12v2.12h-2.12zM-1 1h2.12v1.12h-2.12zM14 1h1.12v1.12h-1.12zM20 1h1.12v1.12h-1.12zM12 2h1.12v1.12h-1.12zM20 2h2.12v1.12h-2.12zM17 3h2.12v1.12h-2.12zM17 4h2.12v1.12h-2.12zM2 5h1.12v1.12h-1.12zM12 7h1.12v1.12h-1.12zM22 7h2.12v1.12h-2.12zM4 8h1.12v1.12h-1.12zM6 8h1.12v1.12h-1.12zM3 9h1.12v1.12h-1.12zM6 9h1.12v1.12h-1.12zM11 9h2.12v1.12h-2.12zM22 9h2.12v1.12h-2.12zM4 10h2.12v1.12h-2.12zM13 10h1.12v1.12h-1.12zM20 10h2.12v1.12h-2.12zM4 11h5.12v1.12h-5.12zM10 11h1.12v1.12h-1.12zM12 11h1.12v1.12h-1.12zM19 11h1.12v1.12h-1.12zM21 11h1.12v1.12h-1.12zM20 12h2.12v1.12h-2.12zM13 13h1.12v1.12h-1.12zM16 13h1.12v1.12h-1.12zM19 13h1.12v1.12h-1.12zM17 14h2.12v1.12h-2.12zM22 14h2.12v1.12h-2.12zM-1 15h2.12v1.12h-2.12zM19 15h1.12v1.12h-1.12zM21 15h3.12v1.12h-3.12zM-1 16h2.12v1.12h-2.12zM15 16h1.12v1.12h-1.12z"/><path fill="#fae8dd" d="M1 -1h1.12v2.12h-1.12zM11 -1h1.12v2.12h-1.12zM22 -1h2.12v2.12h-2.12zM1 1h2.12v1.12h-2.12zM11 1h1.12v1.12h-1.12zM-1 2h2.12v1.12h-2.12zM2 2h1.12v1.12h-1.12zM11 2h1.12v1.12h-1.12zM17 2h1.12v1.12h-1.12zM-1 3h4.12v1.12h-4.12zM12 3h2.12v1.12h-2.12zM16 3h1.12v1.12h-1.12zM20 3h2.12v1.12h-2.12zM1 4h2.12v1.12h-2.12zM8 4h1.12v1.12h-1.12zM1 5h1.12v1.12h-1.12zM8 5h1.12v1.12h-1.12zM18 5h1.12v1.12h-1.12zM1 6h2.12v1.12h-2.12zM19 6h1.12v1.12h-1.12zM22 6h2.12v1.12h-2.12zM11 7h1.12v1.12h-1.12zM13 7h2.12v1.12h-2.12zM17 7h3.12v1.12h-3.12zM11 8h3.12v1.12h-3.12zM7 9h1.12v1.12h-1.12zM13 9h1.12v1.12h-1.12zM3 10h1.12v1.12h-1.12zM6 10h3.12v1.12h-3.12zM10 10h1.12v1.12h-1.12zM14 10h1.12v1.12h-1.12zM9 11h1.12v1.12h-1.12zM13 11h1.12v1.12h-1.12zM18 11h1.12v1.12h-1.12zM5 12h1.12v1.12h-1.12zM11 12h2.12v1.12h-2.12zM19 12h1.12v1.12h-1.12zM1 13h1.12v1.12h-1.12zM12 13h1.12v1.12h-1.12zM14 13h2.12v1.12h-2.12zM20 13h2.12v1.12h-2.12zM-1 14h2.12v1.12h-2.12zM12 14h1.12v1.12h-1.12zM16 14h1.12v1.12h-1.12zM19 14h2.12v1.12h-2.12zM4 15h1.12v1.12h-1.12zM10 15h1.12v1.12h-1.12zM14 15h2.12v1.12h-2.12zM17 15h1.12v1.12h-1.12zM20 15h1.12v1.12h-1.12zM1 16h1.12v1.12h-1.12zM14 16h1.12v1.12h-1.12zM16 16h2.12v1.12h-2.12zM21 16h1.12v1.12h-1.12zM1 17h1.12v1.12h-1.12zM8 17h1.12v1.12h-1.12zM11 17h1.12v1.12h-1.12zM14 17h1.12v1.12h-1.12zM22 17h2.12v1.12h-2.12zM1 18h1.12v2.12h-1.12zM5 18h1.12v2.12h-1.12z"/><path fill="#f7f7f7" d="M2 -1h5.12v2.12h-5.12zM10 -1h1.12v2.12h-1.12zM14 -1h6.12v2.12h-6.12zM3 1h4.12v1.12h-4.12zM9 1h2.12v1.12h-2.12zM15 1h5.12v1.12h-5.12zM1 2h1.12v1.12h-1.12zM3 2h3.12v1.12h-3.12zM7 2h4.12v1.12h-4.12zM15 2h2.12v1.12h-2.12zM18 2h2.12v1.12h-2.12zM22 2h2.12v1.12h-2.12zM3 3h2.12v1.12h-2.12zM6 3h6.12v1.12h-6.12zM14 3h2.12v1.12h-2.12zM19 3h1.12v1.12h-1.12zM22 3h2.12v1.12h-2.12zM-1 4h2.12v1.12h-2.12zM3 4h5.12v1.12h-5.12zM9 4h8.12v1.12h-8.12zM19 4h5.12v1.12h-5.12zM-1 5h2.12v1.12h-2.12zM3 5h1.12v1.12h-1.12zM6 5h2.12v1.12h-2.12zM9 5h3.12v1.12h-3.12zM19 5h2.12v1.12h-2.12zM22 5h2.12v1.12h-2.12zM-1 6h2.12v1.12h-2.12zM3 6h1.12v1.12h-1.12zM6 6h6.12v1.12h-6.12zM17 6h2.12v1.12h-2.12zM-1 7h12.12v1.12h-12.12zM15 7h2.12v1.12h-2.12zM20 7h2.12v1.12h-2.12zM2 8h2.12v1.12h-2.12zM7 8h4.12v1.12h-4.12zM14 8h3.12v1.12h-3.12zM21 8h1.12v1.12h-1.12zM2 9h1.12v1.12h-1.12zM8 9h3.12v1.12h-3.12zM14 9h1.12v1.12h-1.12zM16 9h1.12v1.12h-1.12zM20 9h2.12v1.12h-2.12zM9 10h1.12v1.12h-1.12zM15 10h2.12v1.12h-2.12zM18 10h2.12v1.12h-2.12zM22 10h2.12v1.12h-2.12zM3 11h1.12v1.12h-1.12zM14 11h2.12v1.12h-2.12zM17 11h1.12v1.12h-1.12zM22 11h2.12v1.12h-2.12zM-1 12h4.12v1.12h-4.12zM4 12h1.12v1.12h-1.12zM6 12h1.12v1.12h-1.12zM13 12h2.12v1.12h-2.12zM16 12h3.12v1.12h-3.12zM-1 13h2.12v1.12h-2.12zM2 13h1.12v1.12h-1.12zM4 13h4.12v1.12h-4.12zM10 13h2.12v1.12h-2.12zM22 13h2.12v1.12h-2.12zM1 14h10.12v1.12h-10.12zM15 14h1.12v1.12h-1.12zM21 14h1.12v1.12h-1.12zM1 15h3.12v1.12h-3.12zM5 15h1.12v1.12h-1.12zM7 15h3.12v1.12h-3.12zM12 15h1.12v1.12h-1.12zM16 15h1.12v1.12h-1.12zM18 15h1.12v1.12h-1.12zM2 16h1.12v1.12h-1.12zM7 16h3.12v1.12h-3.12zM11 16h1.12v1.12h-1.12zM13 16h1.12v1.12h-1.12zM18 16h3.12v1.12h-3.12zM22 16h2.12v1.12h-2.12zM3 17h1.12v1.12h-1.12zM6 17h2.12v1.12h-2.12zM9 17h2.12v1.12h-2.12zM12 17h2.12v1.12h-2.12zM17 17h2.12v1.12h-2.12zM20 17h2.12v1.12h-2.12zM-1 18h2.12v2.12h-2.12zM2 18h3.12v2.12h-3.12zM6 18h8.12v2.12h-8.12zM17 18h3.12v2.12h-3.12zM22 18h2.12v2.12h-2.12z"/><path fill="#dfecf3" d="M7 -1h3.12v2.12h-3.12zM7 1h2.12v1.12h-2.12zM22 1h2.12v1.12h-2.12zM6 2h1.12v1.12h-1.12zM5 3h1.12v1.12h-1.12zM4 5h1.12v1.12h-1.12zM12 5h1.12v1.12h-1.12zM17 5h1.12v1.12h-1.12zM21 5h1.12v1.12h-1.12zM4 6h2.12v1.12h-2.12zM12 6h3.12v1.12h-3.12zM16 6h1.12v1.12h-1.12zM20 6h2.12v1.12h-2.12zM17 8h4.12v1.12h-4.12zM15 9h1.12v1.12h-1.12zM19 9h1.12v1.12h-1.12zM2 10h1.12v1.12h-1.12zM17 10h1.12v1.12h-1.12zM-1 11h4.12v1.12h-4.12zM16 11h1.12v1.12h-1.12zM7 12h1.12v1.12h-1.12zM15 12h1.12v1.12h-1.12zM8 13h1.12v1.12h-1.12zM11 14h1.12v1.12h-1.12zM6 15h1.12v1.12h-1.12zM11 15h1.12v1.12h-1.12zM13 15h1.12v1.12h-1.12zM3 16h3.12v1.12h-3.12zM10 16h1.12v1.12h-1.12zM12 16h1.12v1.12h-1.12zM2 17h1.12v1.12h-1.12zM4 17h2.12v1.12h-2.12zM15 17h2.12v1.12h-2.12zM19 17h1.12v1.12h-1.12zM14 18h1.12v2.12h-1.12zM16 18h1.12v2.12h-1.12zM20 18h2.12v2.12h-2.12z"/><path fill="#f7b597" d="M12 1h2.12v1.12h-2.12zM21 1h1.12v1.12h-1.12zM13 2h2.12v1.12h-2.12zM5 8h1.12v1.12h-1.12zM22 8h2.12v1.12h-2.12zM4 9h2.12v1.12h-2.12zM11 10h2.12v1.12h-2.12zM11 11h1.12v1.12h-1.12zM20 11h1.12v1.12h-1.12zM17 13h2.12v1.12h-2.12zM-1 17h2.12v1.12h-2.12z"/><path fill="#c1ddec" d="M5 5h1.12v1.12h-1.12zM13 5h2.12v1.12h-2.12zM16 5h1.12v1.12h-1.12zM15 6h1.12v1.12h-1.12zM-1 8h3.12v1.12h-3.12zM1 9h1.12v1.12h-1.12zM17 9h2.12v1.12h-2.12zM-1 10h3.12v1.12h-3.12zM3 12h1.12v1.12h-1.12zM8 12h2.12v1.12h-2.12zM22 12h2.12v1.12h-2.12zM3 13h1.12v1.12h-1.12zM9 13h1.12v1.12h-1.12zM13 14h2.12v1.12h-2.12zM6 16h1.12v1.12h-1.12zM15 18h1.12v2.12h-1.12z"/><path fill="#92c5de" d="M15 5h1.12v1.12h-1.12zM-1 9h2.12v1.12h-2.12zM10 12h1.12v1.12h-1.12z"/></g></g></g><clipPath id="cp21"><rect x="202.50" y="255.90" width="123.30" height="86.40"/></clipPath><g clip-path="url(#cp21)"><g filter="url(#bl)"><g transform="translate(202.50 255.90) scale(5.3609 4.5474)"><path fill="#f7f7f7" d="M-1 -1h5.12v2.12h-5.12zM5 -1h2.12v2.12h-2.12zM8 -1h1.12v2.12h-1.12zM10 -1h1.12v2.12h-1.12zM16 -1h2.12v2.12h-2.12zM21 -1h3.12v2.12h-3.12zM-1 1h2.12v1.12h-2.12zM3 1h1.12v1.12h-1.12zM5 1h2.12v1.12h-2.12zM10 1h1.12v1.12h-1.12zM16 1h2.12v1.12h-2.12zM21 1h3.12v1.12h-3.12zM-1 2h2.12v1.12h-2.12zM3 2h1.12v1.12h-1.12zM6 2h1.12v1.12h-1.12zM8 2h1.12v1.12h-1.12zM11 2h7.12v1.12h-7.12zM21 2h3.12v1.12h-3.12zM-1 3h2.12v1.12h-2.12zM2 3h2.12v1.12h-2.12zM6 3h3.12v1.12h-3.12zM11 3h1.12v1.12h-1.12zM14 3h4.12v1.12h-4.12zM20 3h2.12v1.12h-2.12zM3 4h1.12v1.12h-1.12zM6 4h4.12v1.12h-4.12zM11 4h2.12v1.12h-2.12zM14 4h2.12v1.12h-2.12zM17 4h4.12v1.12h-4.12zM22 4h2.12v1.12h-2.12zM3 5h1.12v1.12h-1.12zM6 5h4.12v1.12h-4.12zM11 5h1.12v1.12h-1.12zM14 5h3.12v1.12h-3.12zM18 5h3.12v1.12h-3.12zM22 5h2.12v1.12h-2.12zM3 6h1.12v1.12h-1.12zM8 6h4.12v1.12h-4.12zM17 6h1.12v1.12h-1.12zM19 6h5.12v1.12h-5.12zM2 7h4.12v1.12h-4.12zM8 7h1.12v1.12h-1.12zM11 7h1.12v1.12h-1.12zM21 7h3.12v1.12h-3.12zM-1 8h10.12v1.12h-10.12zM11 8h13.12v1.12h-13.12zM-1 9h3.12v1.12h-3.12zM3 9h3.12v1.12h-3.12zM7 9h3.12v1.12h-3.12zM11 9h1.12v1.12h-1.12zM13 9h5.12v1.12h-5.12zM22 9h2.12v1.12h-2.12zM1 10h5.12v1.12h-5.12zM8 10h4.12v1.12h-4.12zM14 10h1.12v1.12h-1.12zM16 10h2.12v1.12h-2.12zM22 10h2.12v1.12h-2.12zM-1 11h4.12v1.12h-4.12zM7 11h1.12v1.12h-1.12zM9 11h7.12v1.12h-7.12zM17 11h3.12v1.12h-3.12zM21 11h3.12v1.12h-3.12zM1 12h3.12v1.12h-3.12zM5 12h1.12v1.12h-1.12zM7 12h3.12v1.12h-3.12zM12 12h7.12v1.12h-7.12zM21 12h3.12v1.12h-3.12zM-1 13h5.12v1.12h-5.12zM5 13h5.12v1.12h-5.12zM11 13h3.12v1.12h-3.12zM18 13h2.12v1.12h-2.12zM21 13h3.12v1.12h-3.12zM1 14h12.12v1.12h-12.12zM18 14h2.12v1.12h-2.12zM21 14h1.12v1.12h-1.12zM-1 15h13.12v1.12h-13.12zM19 15h1.12v1.12h-1.12zM3 16h1.12v1.12h-1.12zM7 16h2.12v1.12h-2.12zM10 16h2.12v1.12h-2.12zM18 16h2.12v1.12h-2.12zM21 16h1.12v1.12h-1.12zM-1 17h2.12v1.12h-2.12zM3 17h1.12v1.12h-1.12zM7 17h5.12v1.12h-5.12zM20 17h1.12v1.12h-1.12zM-1 18h2.12v2.12h-2.12zM3 18h1.12v2.12h-1.12zM6 18h6.12v2.12h-6.12zM14 18h2.12v2.12h-2.12zM22 18h2.12v2.12h-2.12z"/><path fill="#dfecf3" d="M4 -1h1.12v2.12h-1.12zM11 -1h1.12v2.12h-1.12zM14 -1h2.12v2.12h-2.12zM18 -1h1.12v2.12h-1.12zM20 -1h1.12v2.12h-1.12zM11 1h1.12v1.12h-1.12zM14 1h2.12v1.12h-2.12zM5 2h1.12v1.12h-1.12zM10 2h1.12v1.12h-1.12zM10 3h1.12v1.12h-1.12zM18 3h1.12v1.12h-1.12zM10 4h1.12v1.12h-1.12zM5 5h1.12v1.12h-1.12zM10 5h1.12v1.12h-1.12zM17 5h1.12v1.12h-1.12zM4 6h2.12v1.12h-2.12zM6 7h2.12v1.12h-2.12zM18 9h1.12v1.12h-1.12zM21 9h1.12v1.12h-1.12zM-1 10h2.12v1.12h-2.12zM15 10h1.12v1.12h-1.12zM18 10h1.12v1.12h-1.12zM3 11h2.12v1.12h-2.12zM16 11h1.12v1.12h-1.12zM20 11h1.12v1.12h-1.12zM4 12h1.12v1.12h-1.12zM10 12h2.12v1.12h-2.12zM20 12h1.12v1.12h-1.12zM4 13h1.12v1.12h-1.12zM20 13h1.12v1.12h-1.12zM20 14h1.12v1.12h-1.12zM-1 16h2.12v1.12h-2.12zM9 16h1.12v1.12h-1.12zM14 17h1.12v1.12h-1.12zM21 17h1.12v1.12h-1.12zM1 18h2.12v2.12h-2.12zM12 18h2.12v2.12h-2.12z"/><path fill="#fae8dd" d="M7 -1h1.12v2.12h-1.12zM9 -1h1.12v2.12h-1.12zM1 1h2.12v1.12h-2.12zM7 1h2.12v1.12h-2.12zM2 2h1.12v1.12h-1.12zM7 2h1.12v1.12h-1.12zM1 3h1.12v1.12h-1.12zM9 3h1.12v1.12h-1.12zM12 3h1.12v1.12h-1.12zM22 3h2.12v1.12h-2.12zM2 4h1.12v1.12h-1.12zM13 4h1.12v1.12h-1.12zM16 4h1.12v1.12h-1.12zM21 4h1.12v1.12h-1.12zM12 5h2.12v1.12h-2.12zM21 5h1.12v1.12h-1.12zM2 6h1.12v1.12h-1.12zM12 6h5.12v1.12h-5.12zM18 6h1.12v1.12h-1.12zM12 7h2.12v1.12h-2.12zM16 7h2.12v1.12h-2.12zM19 7h2.12v1.12h-2.12zM2 9h1.12v1.12h-1.12zM6 9h1.12v1.12h-1.12zM10 9h1.12v1.12h-1.12zM12 9h1.12v1.12h-1.12zM6 10h2.12v1.12h-2.12zM12 10h2.12v1.12h-2.12zM5 11h2.12v1.12h-2.12zM8 11h1.12v1.12h-1.12zM6 12h1.12v1.12h-1.12zM14 13h2.12v1.12h-2.12zM17 13h1.12v1.12h-1.12zM13 14h1.12v1.12h-1.12zM22 14h2.12v1.12h-2.12zM12 15h1.12v1.12h-1.12zM18 15h1.12v1.12h-1.12zM17 16h1.12v1.12h-1.12zM20 16h1.12v1.12h-1.12zM15 17h1.12v1.12h-1.12zM17 17h3.12v1.12h-3.12zM4 18h2.12v2.12h-2.12zM16 18h2.12v2.12h-2.12zM21 18h1.12v2.12h-1.12z"/><path fill="#c1ddec" d="M12 -1h2.12v2.12h-2.12zM19 -1h1.12v2.12h-1.12zM4 1h1.12v1.12h-1.12zM12 1h2.12v1.12h-2.12zM18 1h1.12v1.12h-1.12zM20 1h1.12v1.12h-1.12zM4 2h1.12v1.12h-1.12zM18 2h1.12v1.12h-1.12zM20 2h1.12v1.12h-1.12zM4 3h2.12v1.12h-2.12zM19 3h1.12v1.12h-1.12zM4 4h2.12v1.12h-2.12zM4 5h1.12v1.12h-1.12zM6 6h2.12v1.12h-2.12zM19 9h2.12v1.12h-2.12zM21 10h1.12v1.12h-1.12zM19 12h1.12v1.12h-1.12zM10 13h1.12v1.12h-1.12zM12 16h2.12v1.12h-2.12zM12 17h2.12v1.12h-2.12z"/><path fill="#fcd4be" d="M9 1h1.12v1.12h-1.12zM1 2h1.12v1.12h-1.12zM9 2h1.12v1.12h-1.12zM13 3h1.12v1.12h-1.12zM2 5h1.12v1.12h-1.12zM-1 7h3.12v1.12h-3.12zM10 7h1.12v1.12h-1.12zM14 7h2.12v1.12h-2.12zM18 7h1.12v1.12h-1.12zM9 8h2.12v1.12h-2.12zM-1 12h2.12v1.12h-2.12zM16 13h1.12v1.12h-1.12zM-1 14h2.12v1.12h-2.12zM17 14h1.12v1.12h-1.12zM13 15h1.12v1.12h-1.12zM4 16h3.12v1.12h-3.12zM14 16h1.12v1.12h-1.12zM16 16h1.12v1.12h-1.12zM22 16h2.12v1.12h-2.12zM6 17h1.12v1.12h-1.12zM16 17h1.12v1.12h-1.12zM22 17h2.12v1.12h-2.12zM18 18h3.12v2.12h-3.12z"/><path fill="#92c5de" d="M19 1h1.12v1.12h-1.12zM19 2h1.12v1.12h-1.12zM19 10h2.12v1.12h-2.12zM1 16h2.12v1.12h-2.12zM1 17h1.12v1.12h-1.12z"/><path fill="#f7b597" d="M-1 4h3.12v1.12h-3.12zM-1 5h2.12v1.12h-2.12zM1 6h1.12v1.12h-1.12zM9 7h1.12v1.12h-1.12zM14 14h1.12v1.12h-1.12zM17 15h1.12v1.12h-1.12zM15 16h1.12v1.12h-1.12zM4 17h1.12v1.12h-1.12z"/><path fill="#ec9475" d="M1 5h1.12v1.12h-1.12zM-1 6h2.12v1.12h-2.12zM15 14h2.12v1.12h-2.12zM20 15h1.12v1.12h-1.12zM22 15h2.12v1.12h-2.12zM5 17h1.12v1.12h-1.12z"/><path fill="#da6954" d="M14 15h1.12v1.12h-1.12zM21 15h1.12v1.12h-1.12z"/><path fill="#b6212f" d="M15 15h1.12v1.12h-1.12z"/><path fill="#c84540" d="M16 15h1.12v1.12h-1.12z"/><path fill="#57a0ca" d="M2 17h1.12v1.12h-1.12z"/></g></g></g><clipPath id="cp22"><rect x="364.90" y="255.90" width="123.30" height="86.40"/></clipPath><g clip-path="url(#cp22)"><g filter="url(#bl)"><g transform="translate(364.90 255.90) scale(5.3609 4.5474)"><path fill="#fcd4be" d="M-1 -1h4.12v2.12h-4.12zM2 1h1.12v1.12h-1.12zM14 1h1.12v1.12h-1.12zM-1 2h3.12v1.12h-3.12zM14 2h1.12v1.12h-1.12zM9 3h1.12v1.12h-1.12zM11 3h4.12v1.12h-4.12zM18 3h3.12v1.12h-3.12zM7 4h1.12v1.12h-1.12zM10 4h1.12v1.12h-1.12zM15 4h1.12v1.12h-1.12zM20 4h1.12v1.12h-1.12zM7 5h1.12v1.12h-1.12zM15 5h6.12v1.12h-6.12zM7 6h3.12v1.12h-3.12zM14 6h4.12v1.12h-4.12zM19 6h3.12v1.12h-3.12zM12 7h2.12v1.12h-2.12zM18 7h2.12v1.12h-2.12zM22 7h2.12v1.12h-2.12zM-1 8h2.12v1.12h-2.12zM12 8h2.12v1.12h-2.12zM18 8h1.12v1.12h-1.12zM21 8h3.12v1.12h-3.12zM11 11h9.12v1.12h-9.12zM7 14h2.12v1.12h-2.12zM2 15h1.12v1.12h-1.12zM14 15h1.12v1.12h-1.12zM16 15h2.12v1.12h-2.12zM-1 16h2.12v1.12h-2.12zM-1 17h2.12v1.12h-2.12zM11 17h2.12v1.12h-2.12zM7 18h1.12v2.12h-1.12zM11 18h3.12v2.12h-3.12zM20 18h1.12v2.12h-1.12zM22 18h2.12v2.12h-2.12z"/><path fill="#fae8dd" d="M3 -1h1.12v2.12h-1.12zM9 -1h1.12v2.12h-1.12zM14 -1h1.12v2.12h-1.12zM20 -1h1.12v2.12h-1.12zM3 1h1.12v1.12h-1.12zM8 1h1.12v1.12h-1.12zM11 1h1.12v1.12h-1.12zM16 1h1.12v1.12h-1.12zM20 1h1.12v1.12h-1.12zM2 2h2.12v1.12h-2.12zM9 2h5.12v1.12h-5.12zM18 2h2.12v1.12h-2.12zM21 2h1.12v1.12h-1.12zM-1 3h3.12v1.12h-3.12zM10 3h1.12v1.12h-1.12zM15 3h1.12v1.12h-1.12zM21 3h3.12v1.12h-3.12zM-1 4h2.12v1.12h-2.12zM2 4h1.12v1.12h-1.12zM11 4h1.12v1.12h-1.12zM14 4h1.12v1.12h-1.12zM18 4h2.12v1.12h-2.12zM1 5h1.12v1.12h-1.12zM10 5h1.12v1.12h-1.12zM14 5h1.12v1.12h-1.12zM-1 6h3.12v1.12h-3.12zM6 6h1.12v1.12h-1.12zM10 6h1.12v1.12h-1.12zM12 6h2.12v1.12h-2.12zM18 6h1.12v1.12h-1.12zM1 7h1.12v1.12h-1.12zM5 7h1.12v1.12h-1.12zM7 7h1.12v1.12h-1.12zM20 7h2.12v1.12h-2.12zM5 8h1.12v1.12h-1.12zM11 8h1.12v1.12h-1.12zM19 8h2.12v1.12h-2.12zM4 9h2.12v1.12h-2.12zM11 9h1.12v1.12h-1.12zM15 9h5.12v1.12h-5.12zM21 9h1.12v1.12h-1.12zM3 10h3.12v1.12h-3.12zM11 10h7.12v1.12h-7.12zM3 11h1.12v1.12h-1.12zM20 11h1.12v1.12h-1.12zM22 11h2.12v1.12h-2.12zM13 12h1.12v1.12h-1.12zM2 14h2.12v1.12h-2.12zM20 14h1.12v1.12h-1.12zM1 15h1.12v1.12h-1.12zM3 15h1.12v1.12h-1.12zM12 15h2.12v1.12h-2.12zM15 15h1.12v1.12h-1.12zM18 15h2.12v1.12h-2.12zM2 16h1.12v1.12h-1.12zM12 16h5.12v1.12h-5.12zM18 16h3.12v1.12h-3.12zM22 16h2.12v1.12h-2.12zM2 17h1.12v1.12h-1.12zM10 17h1.12v1.12h-1.12zM13 17h1.12v1.12h-1.12zM16 17h1.12v1.12h-1.12zM20 17h1.12v1.12h-1.12zM22 17h2.12v1.12h-2.12zM-1 18h2.12v2.12h-2.12zM6 18h1.12v2.12h-1.12zM14 18h2.12v2.12h-2.12zM21 18h1.12v2.12h-1.12z"/><path fill="#dfecf3" d="M4 -1h1.12v2.12h-1.12zM6 -1h1.12v2.12h-1.12zM10 -1h1.12v2.12h-1.12zM12 -1h1.12v2.12h-1.12zM17 -1h1.12v2.12h-1.12zM21 -1h1.12v2.12h-1.12zM6 1h1.12v1.12h-1.12zM12 1h1.12v1.12h-1.12zM6 2h1.12v1.12h-1.12zM5 3h1.12v1.12h-1.12zM4 4h1.12v1.12h-1.12zM4 5h1.12v1.12h-1.12zM11 5h1.12v1.12h-1.12zM6 8h3.12v1.12h-3.12zM10 8h1.12v1.12h-1.12zM-1 9h2.12v1.12h-2.12zM6 9h4.12v1.12h-4.12zM22 9h2.12v1.12h-2.12zM1 10h1.12v1.12h-1.12zM9 10h1.12v1.12h-1.12zM20 10h2.12v1.12h-2.12zM1 11h1.12v1.12h-1.12zM8 11h1.12v1.12h-1.12zM-1 12h2.12v1.12h-2.12zM9 12h1.12v1.12h-1.12zM11 12h1.12v1.12h-1.12zM22 12h2.12v1.12h-2.12zM-1 13h3.12v1.12h-3.12zM8 13h2.12v1.12h-2.12zM15 13h1.12v1.12h-1.12zM21 13h1.12v1.12h-1.12zM1 14h1.12v1.12h-1.12zM4 14h1.12v1.12h-1.12zM6 14h1.12v1.12h-1.12zM10 14h2.12v1.12h-2.12zM16 14h1.12v1.12h-1.12zM10 15h2.12v1.12h-2.12zM5 16h1.12v1.12h-1.12zM3 17h1.12v1.12h-1.12zM5 17h2.12v1.12h-2.12zM15 17h1.12v1.12h-1.12z"/><path fill="#c1ddec" d="M5 -1h1.12v2.12h-1.12zM22 -1h2.12v2.12h-2.12zM4 1h2.12v1.12h-2.12zM22 1h2.12v1.12h-2.12zM4 2h2.12v1.12h-2.12zM4 3h1.12v1.12h-1.12zM-1 10h2.12v1.12h-2.12zM22 10h2.12v1.12h-2.12zM1 12h1.12v1.12h-1.12zM10 13h3.12v1.12h-3.12zM16 13h1.12v1.12h-1.12zM5 14h1.12v1.12h-1.12zM12 14h1.12v1.12h-1.12zM6 16h2.12v1.12h-2.12zM7 17h2.12v1.12h-2.12z"/><path fill="#f7f7f7" d="M7 -1h2.12v2.12h-2.12zM11 -1h1.12v2.12h-1.12zM13 -1h1.12v2.12h-1.12zM15 -1h2.12v2.12h-2.12zM18 -1h2.12v2.12h-2.12zM7 1h1.12v1.12h-1.12zM9 1h2.12v1.12h-2.12zM13 1h1.12v1.12h-1.12zM15 1h1.12v1.12h-1.12zM17 1h3.12v1.12h-3.12zM21 1h1.12v1.12h-1.12zM7 2h2.12v1.12h-2.12zM15 2h3.12v1.12h-3.12zM20 2h1.12v1.12h-1.12zM22 2h2.12v1.12h-2.12zM2 3h2.12v1.12h-2.12zM6 3h3.12v1.12h-3.12zM16 3h2.12v1.12h-2.12zM1 4h1.12v1.12h-1.12zM3 4h1.12v1.12h-1.12zM5 4h2.12v1.12h-2.12zM12 4h2.12v1.12h-2.12zM16 4h2.12v1.12h-2.12zM2 5h2.12v1.12h-2.12zM5 5h2.12v1.12h-2.12zM12 5h2.12v1.12h-2.12zM2 6h4.12v1.12h-4.12zM11 6h1.12v1.12h-1.12zM-1 7h2.12v1.12h-2.12zM2 7h3.12v1.12h-3.12zM6 7h1.12v1.12h-1.12zM8 7h4.12v1.12h-4.12zM1 8h4.12v1.12h-4.12zM9 8h1.12v1.12h-1.12zM1 9h3.12v1.12h-3.12zM10 9h1.12v1.12h-1.12zM12 9h3.12v1.12h-3.12zM20 9h1.12v1.12h-1.12zM2 10h1.12v1.12h-1.12zM6 10h3.12v1.12h-3.12zM10 10h1.12v1.12h-1.12zM18 10h2.12v1.12h-2.12zM2 11h1.12v1.12h-1.12zM4 11h4.12v1.12h-4.12zM9 11h2.12v1.12h-2.12zM21 11h1.12v1.12h-1.12zM2 12h7.12v1.12h-7.12zM10 12h1.12v1.12h-1.12zM12 12h1.12v1.12h-1.12zM14 12h8.12v1.12h-8.12zM2 13h6.12v1.12h-6.12zM13 13h2.12v1.12h-2.12zM17 13h4.12v1.12h-4.12zM-1 14h2.12v1.12h-2.12zM9 14h1.12v1.12h-1.12zM13 14h3.12v1.12h-3.12zM17 14h3.12v1.12h-3.12zM-1 15h2.12v1.12h-2.12zM4 15h6.12v1.12h-6.12zM20 15h4.12v1.12h-4.12zM1 16h1.12v1.12h-1.12zM3 16h2.12v1.12h-2.12zM9 16h3.12v1.12h-3.12zM17 16h1.12v1.12h-1.12zM21 16h1.12v1.12h-1.12zM1 17h1.12v1.12h-1.12zM4 17h1.12v1.12h-1.12zM9 17h1.12v1.12h-1.12zM14 17h1.12v1.12h-1.12zM21 17h1.12v1.12h-1.12zM1 18h5.12v2.12h-5.12zM8 18h3.12v2.12h-3.12z"/><path fill="#f7b597" d="M-1 1h3.12v1.12h-3.12zM8 4h2.12v1.12h-2.12zM21 4h3.12v1.12h-3.12zM8 5h2.12v1.12h-2.12zM21 5h1.12v1.12h-1.12zM22 6h2.12v1.12h-2.12zM14 7h1.12v1.12h-1.12zM14 8h1.12v1.12h-1.12zM17 8h1.12v1.12h-1.12zM17 17h1.12v1.12h-1.12zM19 17h1.12v1.12h-1.12zM16 18h1.12v2.12h-1.12zM19 18h1.12v2.12h-1.12z"/><path fill="#92c5de" d="M-1 5h2.12v1.12h-2.12zM22 13h2.12v1.12h-2.12zM21 14h3.12v1.12h-3.12zM8 16h1.12v1.12h-1.12z"/><path fill="#ec9475" d="M22 5h2.12v1.12h-2.12zM15 7h3.12v1.12h-3.12zM15 8h1.12v1.12h-1.12zM17 18h1.12v2.12h-1.12z"/><path fill="#da6954" d="M16 8h1.12v1.12h-1.12zM18 17h1.12v1.12h-1.12zM18 18h1.12v2.12h-1.12z"/><path fill="#57a0ca" d="M-1 11h2.12v1.12h-2.12z"/></g></g></g><clipPath id="cp30"><rect x="39.50" y="348.30" width="123.30" height="87.10"/></clipPath><g clip-path="url(#cp30)"><g filter="url(#bl)"><g transform="translate(39.50 348.30) scale(5.3609 7.9182)"><path fill="#f7f7f7" d="M-1 -1h2.12v2.12h-2.12zM4 -1h1.12v2.12h-1.12zM8 -1h1.12v2.12h-1.12zM12 -1h1.12v2.12h-1.12zM15 -1h1.12v2.12h-1.12zM18 -1h3.12v2.12h-3.12zM22 -1h2.12v2.12h-2.12zM4 1h1.12v1.12h-1.12zM15 1h1.12v1.12h-1.12zM17 1h7.12v1.12h-7.12zM1 2h1.12v1.12h-1.12zM4 2h3.12v1.12h-3.12zM15 2h1.12v1.12h-1.12zM18 2h3.12v1.12h-3.12zM4 3h1.12v1.12h-1.12zM6 3h1.12v1.12h-1.12zM12 3h1.12v1.12h-1.12zM15 3h1.12v1.12h-1.12zM17 3h1.12v1.12h-1.12zM-1 4h2.12v1.12h-2.12zM11 4h1.12v1.12h-1.12zM17 4h2.12v1.12h-2.12zM-1 5h4.12v1.12h-4.12zM6 5h1.12v1.12h-1.12zM9 5h1.12v1.12h-1.12zM11 5h1.12v1.12h-1.12zM16 5h3.12v1.12h-3.12zM20 5h1.12v1.12h-1.12zM22 5h2.12v1.12h-2.12zM1 6h2.12v1.12h-2.12zM1 7h3.12v1.12h-3.12zM5 7h1.12v1.12h-1.12zM1 8h1.12v1.12h-1.12zM3 8h1.12v1.12h-1.12zM5 8h2.12v1.12h-2.12zM22 8h2.12v1.12h-2.12zM4 9h1.12v1.12h-1.12zM17 9h1.12v1.12h-1.12zM-1 10h2.12v2.12h-2.12zM3 10h2.12v2.12h-2.12zM7 10h2.12v2.12h-2.12zM10 10h1.12v2.12h-1.12zM12 10h1.12v2.12h-1.12zM15 10h1.12v2.12h-1.12zM17 10h1.12v2.12h-1.12zM21 10h1.12v2.12h-1.12z"/><path fill="#dfecf3" d="M1 -1h1.12v2.12h-1.12zM3 -1h1.12v2.12h-1.12zM14 -1h1.12v2.12h-1.12zM1 1h1.12v1.12h-1.12zM3 1h1.12v1.12h-1.12zM14 1h1.12v1.12h-1.12zM3 2h1.12v1.12h-1.12zM14 2h1.12v1.12h-1.12zM21 2h3.12v1.12h-3.12zM1 3h1.12v1.12h-1.12zM3 3h1.12v1.12h-1.12zM14 3h1.12v1.12h-1.12zM18 3h1.12v1.12h-1.12zM3 4h1.12v1.12h-1.12zM15 4h2.12v1.12h-2.12zM19 4h1.12v1.12h-1.12zM7 5h2.12v1.12h-2.12zM10 5h1.12v1.12h-1.12zM12 5h1.12v1.12h-1.12zM15 5h1.12v1.12h-1.12zM19 5h1.12v1.12h-1.12zM21 5h1.12v1.12h-1.12zM11 6h1.12v1.12h-1.12zM4 8h1.12v1.12h-1.12zM7 8h2.12v1.12h-2.12zM12 8h1.12v1.12h-1.12zM15 8h2.12v1.12h-2.12zM21 8h1.12v1.12h-1.12zM1 9h2.12v1.12h-2.12zM6 9h1.12v1.12h-1.12zM13 10h1.12v2.12h-1.12zM18 10h1.12v2.12h-1.12zM20 10h1.12v2.12h-1.12z"/><path fill="#c1ddec" d="M2 -1h1.12v2.12h-1.12zM13 -1h1.12v2.12h-1.12zM2 1h1.12v1.12h-1.12zM13 1h1.12v1.12h-1.12zM2 2h1.12v1.12h-1.12zM13 2h1.12v1.12h-1.12zM2 3h1.12v1.12h-1.12zM13 3h1.12v1.12h-1.12zM19 3h2.12v1.12h-2.12zM22 3h2.12v1.12h-2.12zM1 4h2.12v1.12h-2.12zM14 4h1.12v1.12h-1.12zM20 4h2.12v1.12h-2.12zM13 5h2.12v1.12h-2.12zM-1 6h2.12v1.12h-2.12zM5 6h1.12v1.12h-1.12zM11 7h1.12v1.12h-1.12zM-1 8h2.12v1.12h-2.12zM9 8h2.12v1.12h-2.12zM20 8h1.12v1.12h-1.12zM3 9h1.12v1.12h-1.12zM7 9h1.12v1.12h-1.12zM15 9h2.12v1.12h-2.12zM18 9h1.12v1.12h-1.12zM1 10h2.12v2.12h-2.12zM9 10h1.12v2.12h-1.12zM14 10h1.12v2.12h-1.12zM19 10h1.12v2.12h-1.12z"/><path fill="#fcd4be" d="M5 -1h2.12v2.12h-2.12zM11 -1h1.12v2.12h-1.12zM16 -1h1.12v2.12h-1.12zM8 1h2.12v1.12h-2.12zM16 1h1.12v1.12h-1.12zM-1 3h2.12v1.12h-2.12zM11 3h1.12v1.12h-1.12zM16 3h1.12v1.12h-1.12zM7 4h4.12v1.12h-4.12zM4 5h2.12v1.12h-2.12zM11 8h1.12v1.12h-1.12zM5 10h1.12v2.12h-1.12z"/><path fill="#fae8dd" d="M7 -1h1.12v2.12h-1.12zM9 -1h1.12v2.12h-1.12zM17 -1h1.12v2.12h-1.12zM21 -1h1.12v2.12h-1.12zM-1 1h2.12v1.12h-2.12zM5 1h3.12v1.12h-3.12zM12 1h1.12v1.12h-1.12zM12 2h1.12v1.12h-1.12zM17 2h1.12v1.12h-1.12zM5 3h1.12v1.12h-1.12zM4 4h3.12v1.12h-3.12zM3 5h1.12v1.12h-1.12zM3 6h2.12v1.12h-2.12zM4 7h1.12v1.12h-1.12zM2 8h1.12v1.12h-1.12zM5 9h1.12v1.12h-1.12zM6 10h1.12v2.12h-1.12zM16 10h1.12v2.12h-1.12zM22 10h2.12v2.12h-2.12z"/><path fill="#f7b597" d="M10 -1h1.12v2.12h-1.12zM-1 2h2.12v1.12h-2.12zM7 2h1.12v1.12h-1.12zM16 2h1.12v1.12h-1.12z"/><path fill="#ec9475" d="M10 1h2.12v1.12h-2.12zM8 2h1.12v1.12h-1.12zM11 2h1.12v1.12h-1.12zM7 3h1.12v1.12h-1.12zM10 3h1.12v1.12h-1.12zM11 10h1.12v2.12h-1.12z"/><path fill="#da6954" d="M9 2h2.12v1.12h-2.12zM8 3h2.12v1.12h-2.12z"/><path fill="#92c5de" d="M21 3h1.12v1.12h-1.12zM12 4h2.12v1.12h-2.12zM22 4h2.12v1.12h-2.12zM6 6h5.12v1.12h-5.12zM-1 7h2.12v1.12h-2.12zM6 7h3.12v1.12h-3.12zM14 7h1.12v1.12h-1.12zM22 7h2.12v1.12h-2.12zM13 8h2.12v1.12h-2.12zM17 8h3.12v1.12h-3.12zM8 9h7.12v1.12h-7.12zM19 9h1.12v1.12h-1.12zM21 9h3.12v1.12h-3.12z"/><path fill="#57a0ca" d="M12 6h8.12v1.12h-8.12zM21 6h3.12v1.12h-3.12zM9 7h1.12v1.12h-1.12zM12 7h2.12v1.12h-2.12zM15 7h1.12v1.12h-1.12zM20 7h2.12v1.12h-2.12zM-1 9h2.12v1.12h-2.12zM20 9h1.12v1.12h-1.12z"/><path fill="#3682ba" d="M20 6h1.12v1.12h-1.12zM10 7h1.12v1.12h-1.12zM16 7h2.12v1.12h-2.12zM19 7h1.12v1.12h-1.12z"/><path fill="#256caf" d="M18 7h1.12v1.12h-1.12z"/></g></g></g><clipPath id="cp31"><rect x="201.80" y="348.30" width="123.30" height="87.10"/></clipPath><g clip-path="url(#cp31)"><g filter="url(#bl)"><g transform="translate(201.80 348.30) scale(5.3609 7.9182)"><path fill="#dfecf3" d="M-1 -1h2.12v2.12h-2.12zM2 -1h1.12v2.12h-1.12zM7 -1h2.12v2.12h-2.12zM20 -1h1.12v2.12h-1.12zM22 -1h2.12v2.12h-2.12zM10 1h2.12v1.12h-2.12zM17 1h2.12v1.12h-2.12zM20 1h1.12v1.12h-1.12zM12 2h6.12v1.12h-6.12zM-1 3h2.12v1.12h-2.12zM3 3h2.12v1.12h-2.12zM8 3h1.12v1.12h-1.12zM18 3h2.12v1.12h-2.12zM3 4h2.12v1.12h-2.12zM8 4h1.12v1.12h-1.12zM-1 5h2.12v1.12h-2.12zM9 6h1.12v1.12h-1.12zM12 6h1.12v1.12h-1.12zM15 6h1.12v1.12h-1.12zM18 6h1.12v1.12h-1.12zM22 6h2.12v1.12h-2.12zM3 7h1.12v1.12h-1.12zM7 7h1.12v1.12h-1.12zM12 7h1.12v1.12h-1.12zM17 7h1.12v1.12h-1.12zM-1 8h2.12v1.12h-2.12zM12 8h1.12v1.12h-1.12zM-1 9h2.12v1.12h-2.12zM12 9h1.12v1.12h-1.12zM4 10h2.12v2.12h-2.12zM9 10h2.12v2.12h-2.12zM12 10h1.12v2.12h-1.12z"/><path fill="#f7f7f7" d="M1 -1h1.12v2.12h-1.12zM3 -1h1.12v2.12h-1.12zM5 -1h2.12v2.12h-2.12zM1 1h3.12v1.12h-3.12zM5 1h5.12v1.12h-5.12zM21 1h3.12v1.12h-3.12zM-1 2h3.12v1.12h-3.12zM3 2h5.12v1.12h-5.12zM11 2h1.12v1.12h-1.12zM18 2h2.12v1.12h-2.12zM22 2h2.12v1.12h-2.12zM1 3h2.12v1.12h-2.12zM5 3h2.12v1.12h-2.12zM11 3h1.12v1.12h-1.12zM2 4h1.12v1.12h-1.12zM5 4h1.12v1.12h-1.12zM7 4h1.12v1.12h-1.12zM11 4h1.12v1.12h-1.12zM3 5h5.12v1.12h-5.12zM11 5h1.12v1.12h-1.12zM3 6h1.12v1.12h-1.12zM6 6h3.12v1.12h-3.12zM10 6h1.12v1.12h-1.12zM16 6h2.12v1.12h-2.12zM1 7h2.12v1.12h-2.12zM4 7h2.12v1.12h-2.12zM8 7h2.12v1.12h-2.12zM1 8h1.12v1.12h-1.12zM3 8h8.12v1.12h-8.12zM1 9h6.12v1.12h-6.12zM-1 10h2.12v2.12h-2.12zM3 10h1.12v2.12h-1.12zM6 10h3.12v2.12h-3.12zM11 10h1.12v2.12h-1.12z"/><path fill="#fae8dd" d="M4 -1h1.12v2.12h-1.12zM-1 1h2.12v1.12h-2.12zM4 1h1.12v1.12h-1.12zM2 2h1.12v1.12h-1.12zM20 2h2.12v1.12h-2.12zM7 3h1.12v1.12h-1.12zM1 4h1.12v1.12h-1.12zM6 4h1.12v1.12h-1.12zM11 6h1.12v1.12h-1.12zM6 7h1.12v1.12h-1.12zM2 8h1.12v1.12h-1.12zM11 8h1.12v1.12h-1.12z"/><path fill="#c1ddec" d="M9 -1h3.12v2.12h-3.12zM16 -1h4.12v2.12h-4.12zM21 -1h1.12v2.12h-1.12zM16 1h1.12v1.12h-1.12zM19 1h1.12v1.12h-1.12zM9 3h2.12v1.12h-2.12zM15 3h3.12v1.12h-3.12zM20 3h4.12v1.12h-4.12zM-1 4h2.12v1.12h-2.12zM9 4h2.12v1.12h-2.12zM21 4h3.12v1.12h-3.12zM8 5h3.12v1.12h-3.12zM12 5h1.12v1.12h-1.12zM17 5h2.12v1.12h-2.12zM4 6h2.12v1.12h-2.12zM13 6h2.12v1.12h-2.12zM19 6h2.12v1.12h-2.12zM-1 7h2.12v1.12h-2.12zM15 7h2.12v1.12h-2.12zM18 7h1.12v1.12h-1.12zM14 8h3.12v1.12h-3.12zM16 9h2.12v1.12h-2.12z"/><path fill="#92c5de" d="M12 -1h1.12v2.12h-1.12zM14 -1h2.12v2.12h-2.12zM12 1h1.12v1.12h-1.12zM15 1h1.12v1.12h-1.12zM12 3h1.12v1.12h-1.12zM14 3h1.12v1.12h-1.12zM12 4h1.12v1.12h-1.12zM16 4h5.12v1.12h-5.12zM16 5h1.12v1.12h-1.12zM19 5h5.12v1.12h-5.12zM21 6h1.12v1.12h-1.12zM14 7h1.12v1.12h-1.12zM19 7h1.12v1.12h-1.12zM13 8h1.12v1.12h-1.12zM17 8h2.12v1.12h-2.12zM14 9h2.12v1.12h-2.12zM18 9h1.12v1.12h-1.12zM15 10h3.12v2.12h-3.12z"/><path fill="#57a0ca" d="M13 -1h1.12v2.12h-1.12zM13 1h2.12v1.12h-2.12zM13 3h1.12v1.12h-1.12zM13 4h3.12v1.12h-3.12zM13 5h3.12v1.12h-3.12zM13 7h1.12v1.12h-1.12zM20 7h1.12v1.12h-1.12zM19 8h2.12v1.12h-2.12zM13 9h1.12v1.12h-1.12zM19 9h2.12v1.12h-2.12zM13 10h1.12v2.12h-1.12zM18 10h2.12v2.12h-2.12zM22 10h2.12v2.12h-2.12z"/><path fill="#f7b597" d="M8 2h2.12v1.12h-2.12zM-1 6h3.12v1.12h-3.12zM10 7h1.12v1.12h-1.12zM1 10h2.12v2.12h-2.12z"/><path fill="#fcd4be" d="M10 2h1.12v1.12h-1.12zM1 5h2.12v1.12h-2.12zM2 6h1.12v1.12h-1.12zM11 7h1.12v1.12h-1.12zM11 9h1.12v1.12h-1.12z"/><path fill="#3682ba" d="M21 7h3.12v1.12h-3.12zM21 8h3.12v1.12h-3.12zM21 9h3.12v1.12h-3.12zM14 10h1.12v2.12h-1.12zM20 10h1.12v2.12h-1.12z"/><path fill="#ec9475" d="M7 9h4.12v1.12h-4.12z"/><path fill="#256caf" d="M21 10h1.12v2.12h-1.12z"/></g></g></g><clipPath id="cp32"><rect x="364.20" y="348.30" width="123.30" height="87.10"/></clipPath><g clip-path="url(#cp32)"><g filter="url(#bl)"><g transform="translate(364.20 348.30) scale(5.3609 7.9182)"><path fill="#f7b597" d="M-1 -1h2.12v2.12h-2.12zM5 7h1.12v1.12h-1.12z"/><path fill="#dfecf3" d="M1 -1h1.12v2.12h-1.12zM3 -1h1.12v2.12h-1.12zM9 -1h1.12v2.12h-1.12zM11 -1h1.12v2.12h-1.12zM15 -1h2.12v2.12h-2.12zM1 1h1.12v1.12h-1.12zM3 1h1.12v1.12h-1.12zM12 1h1.12v1.12h-1.12zM21 1h1.12v1.12h-1.12zM1 2h1.12v1.12h-1.12zM3 2h1.12v1.12h-1.12zM15 2h1.12v1.12h-1.12zM21 2h1.12v1.12h-1.12zM3 3h2.12v1.12h-2.12zM16 3h1.12v1.12h-1.12zM21 3h1.12v1.12h-1.12zM7 4h1.12v1.12h-1.12zM11 4h1.12v1.12h-1.12zM21 4h1.12v1.12h-1.12zM3 5h1.12v1.12h-1.12zM5 5h1.12v1.12h-1.12zM7 5h2.12v1.12h-2.12zM11 5h1.12v1.12h-1.12zM17 5h5.12v1.12h-5.12zM1 7h1.12v1.12h-1.12zM7 7h1.12v1.12h-1.12zM6 8h2.12v1.12h-2.12zM-1 9h2.12v1.12h-2.12zM17 9h1.12v1.12h-1.12zM4 10h1.12v2.12h-1.12zM6 10h1.12v2.12h-1.12z"/><path fill="#c1ddec" d="M2 -1h1.12v2.12h-1.12zM12 -1h1.12v2.12h-1.12zM14 -1h1.12v2.12h-1.12zM21 -1h3.12v2.12h-3.12zM2 1h1.12v1.12h-1.12zM14 1h1.12v1.12h-1.12zM22 1h2.12v1.12h-2.12zM2 2h1.12v1.12h-1.12zM12 2h1.12v1.12h-1.12zM14 2h1.12v1.12h-1.12zM9 3h1.12v1.12h-1.12zM12 3h1.12v1.12h-1.12zM15 3h1.12v1.12h-1.12zM5 4h2.12v1.12h-2.12zM12 4h1.12v1.12h-1.12zM16 4h2.12v1.12h-2.12zM12 5h1.12v1.12h-1.12zM16 5h1.12v1.12h-1.12zM2 6h2.12v1.12h-2.12zM9 7h1.12v1.12h-1.12zM11 7h1.12v1.12h-1.12zM-1 8h2.12v1.12h-2.12zM11 8h1.12v1.12h-1.12zM16 9h1.12v1.12h-1.12zM11 10h1.12v2.12h-1.12zM22 10h2.12v2.12h-2.12z"/><path fill="#f7f7f7" d="M4 -1h1.12v2.12h-1.12zM8 -1h1.12v2.12h-1.12zM10 -1h1.12v2.12h-1.12zM17 -1h4.12v2.12h-4.12zM4 1h1.12v1.12h-1.12zM8 1h4.12v1.12h-4.12zM15 1h6.12v1.12h-6.12zM4 2h1.12v1.12h-1.12zM7 2h3.12v1.12h-3.12zM11 2h1.12v1.12h-1.12zM16 2h5.12v1.12h-5.12zM-1 3h4.12v1.12h-4.12zM5 3h4.12v1.12h-4.12zM10 3h2.12v1.12h-2.12zM17 3h4.12v1.12h-4.12zM2 4h3.12v1.12h-3.12zM8 4h3.12v1.12h-3.12zM18 4h1.12v1.12h-1.12zM20 4h1.12v1.12h-1.12zM2 5h1.12v1.12h-1.12zM4 5h1.12v1.12h-1.12zM6 5h1.12v1.12h-1.12zM9 5h2.12v1.12h-2.12zM1 6h1.12v1.12h-1.12zM4 6h1.12v1.12h-1.12zM9 6h1.12v1.12h-1.12zM11 6h1.12v1.12h-1.12zM-1 7h2.12v1.12h-2.12zM2 7h2.12v1.12h-2.12zM6 7h1.12v1.12h-1.12zM10 7h1.12v1.12h-1.12zM1 8h1.12v1.12h-1.12zM8 8h3.12v1.12h-3.12zM1 9h1.12v1.12h-1.12zM5 9h6.12v1.12h-6.12zM2 10h2.12v2.12h-2.12zM9 10h2.12v2.12h-2.12z"/><path fill="#fcd4be" d="M5 -1h2.12v2.12h-2.12zM-1 1h2.12v1.12h-2.12zM6 1h1.12v1.12h-1.12zM5 6h1.12v1.12h-1.12zM3 8h2.12v1.12h-2.12zM3 9h1.12v1.12h-1.12zM1 10h1.12v2.12h-1.12zM7 10h2.12v2.12h-2.12z"/><path fill="#fae8dd" d="M7 -1h1.12v2.12h-1.12zM5 1h1.12v1.12h-1.12zM7 1h1.12v1.12h-1.12zM-1 2h2.12v1.12h-2.12zM5 2h2.12v1.12h-2.12zM10 2h1.12v1.12h-1.12zM-1 4h3.12v1.12h-3.12zM19 4h1.12v1.12h-1.12zM1 5h1.12v1.12h-1.12zM-1 6h2.12v1.12h-2.12zM6 6h1.12v1.12h-1.12zM10 6h1.12v1.12h-1.12zM4 7h1.12v1.12h-1.12zM2 8h1.12v1.12h-1.12zM5 8h1.12v1.12h-1.12zM2 9h1.12v1.12h-1.12zM4 9h1.12v1.12h-1.12zM11 9h1.12v1.12h-1.12z"/><path fill="#92c5de" d="M13 -1h1.12v2.12h-1.12zM13 2h1.12v1.12h-1.12zM22 2h2.12v1.12h-2.12zM13 3h2.12v1.12h-2.12zM13 4h3.12v1.12h-3.12zM13 5h3.12v1.12h-3.12zM7 6h2.12v1.12h-2.12zM12 6h1.12v1.12h-1.12zM15 6h9.12v1.12h-9.12zM8 7h1.12v1.12h-1.12zM18 7h3.12v1.12h-3.12zM18 8h3.12v1.12h-3.12zM18 9h3.12v1.12h-3.12zM5 10h1.12v2.12h-1.12zM12 10h3.12v2.12h-3.12zM16 10h2.12v2.12h-2.12zM19 10h1.12v2.12h-1.12zM21 10h1.12v2.12h-1.12z"/><path fill="#57a0ca" d="M13 1h1.12v1.12h-1.12zM22 3h2.12v1.12h-2.12zM22 4h2.12v1.12h-2.12zM13 6h2.12v1.12h-2.12zM16 7h2.12v1.12h-2.12zM21 7h1.12v1.12h-1.12zM17 8h1.12v1.12h-1.12zM21 8h1.12v1.12h-1.12zM12 9h1.12v1.12h-1.12zM15 9h1.12v1.12h-1.12zM21 9h1.12v1.12h-1.12zM15 10h1.12v2.12h-1.12zM18 10h1.12v2.12h-1.12zM20 10h1.12v2.12h-1.12z"/><path fill="#ec9475" d="M-1 5h2.12v1.12h-2.12z"/><path fill="#3682ba" d="M22 5h2.12v1.12h-2.12zM15 7h1.12v1.12h-1.12zM22 7h2.12v1.12h-2.12zM16 8h1.12v1.12h-1.12zM22 8h2.12v1.12h-2.12zM14 9h1.12v1.12h-1.12zM22 9h2.12v1.12h-2.12z"/><path fill="#256caf" d="M12 7h1.12v1.12h-1.12zM14 7h1.12v1.12h-1.12zM12 8h1.12v1.12h-1.12zM15 8h1.12v1.12h-1.12zM13 9h1.12v1.12h-1.12z"/><path fill="#165290" d="M13 7h1.12v1.12h-1.12z"/><path fill="#0c3e74" d="M13 8h2.12v1.12h-2.12z"/><path fill="#da6954" d="M-1 10h2.12v2.12h-2.12z"/></g></g></g></g>
<g><rect x="500.30" y="34.40" width="15.60" height="2.51" fill="#69011f"/><rect x="500.30" y="36.41" width="15.60" height="2.51" fill="#6d0220"/><rect x="500.30" y="38.43" width="15.60" height="2.51" fill="#700320"/><rect x="500.30" y="40.44" width="15.60" height="2.51" fill="#740421"/><rect x="500.30" y="42.46" width="15.60" height="2.51" fill="#780522"/><rect x="500.30" y="44.47" width="15.60" height="2.51" fill="#7c0722"/><rect x="500.30" y="46.48" width="15.60" height="2.51" fill="#7f0823"/><rect x="500.30" y="48.50" width="15.60" height="2.51" fill="#830924"/><rect x="500.30" y="50.51" width="15.60" height="2.51" fill="#870a24"/><rect x="500.30" y="52.53" width="15.60" height="2.51" fill="#8b0b25"/><rect x="500.30" y="54.54" width="15.60" height="2.51" fill="#8e0d25"/><rect x="500.30" y="56.55" width="15.60" height="2.51" fill="#920e26"/><rect x="500.30" y="58.57" width="15.60" height="2.51" fill="#960f26"/><rect x="500.30" y="60.58" width="15.60" height="2.51" fill="#9a1027"/><rect x="500.30" y="62.60" width="15.60" height="2.51" fill="#9d1128"/><rect x="500.30" y="64.61" width="15.60" height="2.51" fill="#a11328"/><rect x="500.30" y="66.62" width="15.60" height="2.51" fill="#a51429"/><rect x="500.30" y="68.64" width="15.60" height="2.51" fill="#a9152a"/><rect x="500.30" y="70.65" width="15.60" height="2.51" fill="#ac162a"/><rect x="500.30" y="72.67" width="15.60" height="2.51" fill="#b0172b"/><rect x="500.30" y="74.68" width="15.60" height="2.51" fill="#b31a2c"/><rect x="500.30" y="76.69" width="15.60" height="2.51" fill="#b51d2e"/><rect x="500.30" y="78.71" width="15.60" height="2.51" fill="#b6212f"/><rect x="500.30" y="80.72" width="15.60" height="2.51" fill="#b82531"/><rect x="500.30" y="82.74" width="15.60" height="2.51" fill="#ba2833"/><rect x="500.30" y="84.75" width="15.60" height="2.51" fill="#bc2c34"/><rect x="500.30" y="86.76" width="15.60" height="2.51" fill="#be2f36"/><rect x="500.30" y="88.78" width="15.60" height="2.51" fill="#c03338"/><rect x="500.30" y="90.79" width="15.60" height="2.51" fill="#c13739"/><rect x="500.30" y="92.81" width="15.60" height="2.51" fill="#c33a3b"/><rect x="500.30" y="94.82" width="15.60" height="2.51" fill="#c53e3d"/><rect x="500.30" y="96.83" width="15.60" height="2.51" fill="#c7413f"/><rect x="500.30" y="98.85" width="15.60" height="2.51" fill="#c84540"/><rect x="500.30" y="100.86" width="15.60" height="2.51" fill="#ca4942"/><rect x="500.30" y="102.88" width="15.60" height="2.51" fill="#cc4c44"/><rect x="500.30" y="104.89" width="15.60" height="2.51" fill="#ce5045"/><rect x="500.30" y="106.90" width="15.60" height="2.51" fill="#d05347"/><rect x="500.30" y="108.92" width="15.60" height="2.51" fill="#d25749"/><rect x="500.30" y="110.93" width="15.60" height="2.51" fill="#d35b4a"/><rect x="500.30" y="112.95" width="15.60" height="2.51" fill="#d55e4c"/><rect x="500.30" y="114.96" width="15.60" height="2.51" fill="#d7624e"/><rect x="500.30" y="116.97" width="15.60" height="2.51" fill="#d86551"/><rect x="500.30" y="118.99" width="15.60" height="2.51" fill="#da6954"/><rect x="500.30" y="121.00" width="15.60" height="2.51" fill="#db6c56"/><rect x="500.30" y="123.02" width="15.60" height="2.51" fill="#dd7059"/><rect x="500.30" y="125.03" width="15.60" height="2.51" fill="#de735c"/><rect x="500.30" y="127.04" width="15.60" height="2.51" fill="#e0765e"/><rect x="500.30" y="129.06" width="15.60" height="2.51" fill="#e17a61"/><rect x="500.30" y="131.07" width="15.60" height="2.51" fill="#e37d64"/><rect x="500.30" y="133.09" width="15.60" height="2.51" fill="#e48166"/><rect x="500.30" y="135.10" width="15.60" height="2.51" fill="#e68469"/><rect x="500.30" y="137.11" width="15.60" height="2.51" fill="#e7886b"/><rect x="500.30" y="139.13" width="15.60" height="2.51" fill="#e98b6e"/><rect x="500.30" y="141.14" width="15.60" height="2.51" fill="#ea8f71"/><rect x="500.30" y="143.16" width="15.60" height="2.51" fill="#ec9273"/><rect x="500.30" y="145.17" width="15.60" height="2.51" fill="#ed9576"/><rect x="500.30" y="147.18" width="15.60" height="2.51" fill="#ef9979"/><rect x="500.30" y="149.20" width="15.60" height="2.51" fill="#f09c7b"/><rect x="500.30" y="151.21" width="15.60" height="2.51" fill="#f2a07e"/><rect x="500.30" y="153.23" width="15.60" height="2.51" fill="#f3a381"/><rect x="500.30" y="155.24" width="15.60" height="2.51" fill="#f4a684"/><rect x="500.30" y="157.25" width="15.60" height="2.51" fill="#f5a987"/><rect x="500.30" y="159.27" width="15.60" height="2.51" fill="#f5ac8b"/><rect x="500.30" y="161.28" width="15.60" height="2.51" fill="#f6ae8e"/><rect x="500.30" y="163.30" width="15.60" height="2.51" fill="#f6b192"/><rect x="500.30" y="165.31" width="15.60" height="2.51" fill="#f6b495"/><rect x="500.30" y="167.32" width="15.60" height="2.51" fill="#f7b798"/><rect x="500.30" y="169.34" width="15.60" height="2.51" fill="#f7b99c"/><rect x="500.30" y="171.35" width="15.60" height="2.51" fill="#f8bc9f"/><rect x="500.30" y="173.37" width="15.60" height="2.51" fill="#f8bfa3"/><rect x="500.30" y="175.38" width="15.60" height="2.51" fill="#f9c1a6"/><rect x="500.30" y="177.39" width="15.60" height="2.51" fill="#f9c4aa"/><rect x="500.30" y="179.41" width="15.60" height="2.51" fill="#fac7ad"/><rect x="500.30" y="181.42" width="15.60" height="2.51" fill="#fac9b1"/><rect x="500.30" y="183.44" width="15.60" height="2.51" fill="#fbccb4"/><rect x="500.30" y="185.45" width="15.60" height="2.51" fill="#fbcfb7"/><rect x="500.30" y="187.46" width="15.60" height="2.51" fill="#fbd2bb"/><rect x="500.30" y="189.48" width="15.60" height="2.51" fill="#fcd4be"/><rect x="500.30" y="191.49" width="15.60" height="2.51" fill="#fcd7c2"/><rect x="500.30" y="193.51" width="15.60" height="2.51" fill="#fddac5"/><rect x="500.30" y="195.52" width="15.60" height="2.51" fill="#fddcc8"/><rect x="500.30" y="197.53" width="15.60" height="2.51" fill="#fdddcb"/><rect x="500.30" y="199.55" width="15.60" height="2.51" fill="#fcdecd"/><rect x="500.30" y="201.56" width="15.60" height="2.51" fill="#fce0cf"/><rect x="500.30" y="203.58" width="15.60" height="2.51" fill="#fce1d2"/><rect x="500.30" y="205.59" width="15.60" height="2.51" fill="#fbe3d4"/><rect x="500.30" y="207.60" width="15.60" height="2.51" fill="#fbe4d7"/><rect x="500.30" y="209.62" width="15.60" height="2.51" fill="#fbe6d9"/><rect x="500.30" y="211.63" width="15.60" height="2.51" fill="#fae7db"/><rect x="500.30" y="213.65" width="15.60" height="2.51" fill="#fae8de"/><rect x="500.30" y="215.66" width="15.60" height="2.51" fill="#faeae0"/><rect x="500.30" y="217.67" width="15.60" height="2.51" fill="#faebe3"/><rect x="500.30" y="219.69" width="15.60" height="2.51" fill="#f9ece5"/><rect x="500.30" y="221.70" width="15.60" height="2.51" fill="#f9eee7"/><rect x="500.30" y="223.72" width="15.60" height="2.51" fill="#f9efea"/><rect x="500.30" y="225.73" width="15.60" height="2.51" fill="#f8f1ec"/><rect x="500.30" y="227.74" width="15.60" height="2.51" fill="#f8f2ef"/><rect x="500.30" y="229.76" width="15.60" height="2.51" fill="#f8f4f1"/><rect x="500.30" y="231.77" width="15.60" height="2.51" fill="#f7f5f3"/><rect x="500.30" y="233.79" width="15.60" height="2.51" fill="#f7f6f6"/><rect x="500.30" y="235.80" width="15.60" height="2.51" fill="#f5f6f7"/><rect x="500.30" y="237.81" width="15.60" height="2.51" fill="#f2f5f6"/><rect x="500.30" y="239.83" width="15.60" height="2.51" fill="#f0f3f6"/><rect x="500.30" y="241.84" width="15.60" height="2.51" fill="#edf2f5"/><rect x="500.30" y="243.86" width="15.60" height="2.51" fill="#ebf1f5"/><rect x="500.30" y="245.87" width="15.60" height="2.51" fill="#e8f0f4"/><rect x="500.30" y="247.88" width="15.60" height="2.51" fill="#e6eff4"/><rect x="500.30" y="249.90" width="15.60" height="2.51" fill="#e4eef3"/><rect x="500.30" y="251.91" width="15.60" height="2.51" fill="#e1edf3"/><rect x="500.30" y="253.93" width="15.60" height="2.51" fill="#dfecf3"/><rect x="500.30" y="255.94" width="15.60" height="2.51" fill="#ddebf2"/><rect x="500.30" y="257.95" width="15.60" height="2.51" fill="#dbeaf2"/><rect x="500.30" y="259.97" width="15.60" height="2.51" fill="#d9e9f1"/><rect x="500.30" y="261.98" width="15.60" height="2.51" fill="#d6e8f1"/><rect x="500.30" y="264.00" width="15.60" height="2.51" fill="#d4e7f1"/><rect x="500.30" y="266.01" width="15.60" height="2.51" fill="#d2e6f0"/><rect x="500.30" y="268.02" width="15.60" height="2.51" fill="#cfe4f0"/><rect x="500.30" y="270.04" width="15.60" height="2.51" fill="#cce2ef"/><rect x="500.30" y="272.05" width="15.60" height="2.51" fill="#c9e1ee"/><rect x="500.30" y="274.07" width="15.60" height="2.51" fill="#c5dfed"/><rect x="500.30" y="276.08" width="15.60" height="2.51" fill="#c2ddec"/><rect x="500.30" y="278.09" width="15.60" height="2.51" fill="#bfdceb"/><rect x="500.30" y="280.11" width="15.60" height="2.51" fill="#bbdaea"/><rect x="500.30" y="282.12" width="15.60" height="2.51" fill="#b8d8e9"/><rect x="500.30" y="284.14" width="15.60" height="2.51" fill="#b5d7e8"/><rect x="500.30" y="286.15" width="15.60" height="2.51" fill="#b1d5e7"/><rect x="500.30" y="288.16" width="15.60" height="2.51" fill="#aed3e6"/><rect x="500.30" y="290.18" width="15.60" height="2.51" fill="#abd2e5"/><rect x="500.30" y="292.19" width="15.60" height="2.51" fill="#a8d0e4"/><rect x="500.30" y="294.21" width="15.60" height="2.51" fill="#a4cee3"/><rect x="500.30" y="296.22" width="15.60" height="2.51" fill="#a1cde2"/><rect x="500.30" y="298.23" width="15.60" height="2.51" fill="#9ecbe1"/><rect x="500.30" y="300.25" width="15.60" height="2.51" fill="#9bc9e1"/><rect x="500.30" y="302.26" width="15.60" height="2.51" fill="#98c8e0"/><rect x="500.30" y="304.28" width="15.60" height="2.51" fill="#95c6df"/><rect x="500.30" y="306.29" width="15.60" height="2.51" fill="#91c5de"/><rect x="500.30" y="308.30" width="15.60" height="2.51" fill="#8dc2dc"/><rect x="500.30" y="310.32" width="15.60" height="2.51" fill="#89c0db"/><rect x="500.30" y="312.33" width="15.60" height="2.51" fill="#85bdda"/><rect x="500.30" y="314.35" width="15.60" height="2.51" fill="#82bbd8"/><rect x="500.30" y="316.36" width="15.60" height="2.51" fill="#7eb8d7"/><rect x="500.30" y="318.37" width="15.60" height="2.51" fill="#7ab6d6"/><rect x="500.30" y="320.39" width="15.60" height="2.51" fill="#76b3d4"/><rect x="500.30" y="322.40" width="15.60" height="2.51" fill="#72b1d3"/><rect x="500.30" y="324.42" width="15.60" height="2.51" fill="#6eaed2"/><rect x="500.30" y="326.43" width="15.60" height="2.51" fill="#6aacd0"/><rect x="500.30" y="328.44" width="15.60" height="2.51" fill="#67aacf"/><rect x="500.30" y="330.46" width="15.60" height="2.51" fill="#63a7ce"/><rect x="500.30" y="332.47" width="15.60" height="2.51" fill="#5fa5cd"/><rect x="500.30" y="334.49" width="15.60" height="2.51" fill="#5ba2cb"/><rect x="500.30" y="336.50" width="15.60" height="2.51" fill="#57a0ca"/><rect x="500.30" y="338.51" width="15.60" height="2.51" fill="#549ec9"/><rect x="500.30" y="340.53" width="15.60" height="2.51" fill="#509bc7"/><rect x="500.30" y="342.54" width="15.60" height="2.51" fill="#4c99c6"/><rect x="500.30" y="344.56" width="15.60" height="2.51" fill="#4896c5"/><rect x="500.30" y="346.57" width="15.60" height="2.51" fill="#4594c4"/><rect x="500.30" y="348.58" width="15.60" height="2.51" fill="#4292c2"/><rect x="500.30" y="350.60" width="15.60" height="2.51" fill="#4190c1"/><rect x="500.30" y="352.61" width="15.60" height="2.51" fill="#3f8ec0"/><rect x="500.30" y="354.63" width="15.60" height="2.51" fill="#3d8cbf"/><rect x="500.30" y="356.64" width="15.60" height="2.51" fill="#3c89be"/><rect x="500.30" y="358.65" width="15.60" height="2.51" fill="#3a87bd"/><rect x="500.30" y="360.67" width="15.60" height="2.51" fill="#3985bc"/><rect x="500.30" y="362.68" width="15.60" height="2.51" fill="#3783bb"/><rect x="500.30" y="364.70" width="15.60" height="2.51" fill="#3581ba"/><rect x="500.30" y="366.71" width="15.60" height="2.51" fill="#347fb9"/><rect x="500.30" y="368.72" width="15.60" height="2.51" fill="#327db8"/><rect x="500.30" y="370.74" width="15.60" height="2.51" fill="#317bb7"/><rect x="500.30" y="372.75" width="15.60" height="2.51" fill="#2f79b6"/><rect x="500.30" y="374.77" width="15.60" height="2.51" fill="#2e77b5"/><rect x="500.30" y="376.78" width="15.60" height="2.51" fill="#2c75b3"/><rect x="500.30" y="378.79" width="15.60" height="2.51" fill="#2a73b2"/><rect x="500.30" y="380.81" width="15.60" height="2.51" fill="#2970b1"/><rect x="500.30" y="382.82" width="15.60" height="2.51" fill="#276eb0"/><rect x="500.30" y="384.84" width="15.60" height="2.51" fill="#266caf"/><rect x="500.30" y="386.85" width="15.60" height="2.51" fill="#246aae"/><rect x="500.30" y="388.86" width="15.60" height="2.51" fill="#2368ad"/><rect x="500.30" y="390.88" width="15.60" height="2.51" fill="#2166ac"/><rect x="500.30" y="392.89" width="15.60" height="2.51" fill="#2064a9"/><rect x="500.30" y="394.91" width="15.60" height="2.51" fill="#1f61a6"/><rect x="500.30" y="396.92" width="15.60" height="2.51" fill="#1d5fa2"/><rect x="500.30" y="398.93" width="15.60" height="2.51" fill="#1c5c9f"/><rect x="500.30" y="400.95" width="15.60" height="2.51" fill="#1b5a9b"/><rect x="500.30" y="402.96" width="15.60" height="2.51" fill="#1a5898"/><rect x="500.30" y="404.98" width="15.60" height="2.51" fill="#185595"/><rect x="500.30" y="406.99" width="15.60" height="2.51" fill="#175391"/><rect x="500.30" y="409.00" width="15.60" height="2.51" fill="#16508e"/><rect x="500.30" y="411.02" width="15.60" height="2.51" fill="#154e8b"/><rect x="500.30" y="413.03" width="15.60" height="2.51" fill="#134c87"/><rect x="500.30" y="415.05" width="15.60" height="2.51" fill="#124984"/><rect x="500.30" y="417.06" width="15.60" height="2.51" fill="#114781"/><rect x="500.30" y="419.07" width="15.60" height="2.51" fill="#10447d"/><rect x="500.30" y="421.09" width="15.60" height="2.51" fill="#0e427a"/><rect x="500.30" y="423.10" width="15.60" height="2.51" fill="#0d4077"/><rect x="500.30" y="425.12" width="15.60" height="2.51" fill="#0c3d73"/><rect x="500.30" y="427.13" width="15.60" height="2.51" fill="#0b3b70"/><rect x="500.30" y="429.14" width="15.60" height="2.51" fill="#09386d"/><rect x="500.30" y="431.16" width="15.60" height="2.51" fill="#083669"/><rect x="500.30" y="433.17" width="15.60" height="2.51" fill="#073466"/><rect x="500.30" y="435.19" width="15.60" height="2.51" fill="#063163"/></g>
<g><line x1="94.30" y1="32.80" x2="94.30" y2="120.20" stroke="#303030" stroke-width="1" stroke-dasharray="4.7 3.1" stroke-dashoffset="2.60"/><rect x="40.20" y="32.80" width="123.30" height="87.40" fill="none" stroke="#606060" stroke-width="1"/><line x1="40.20" y1="37.60" x2="41.70" y2="37.60" stroke="#262626" stroke-width="1"/><line x1="162.00" y1="37.60" x2="163.50" y2="37.60" stroke="#262626" stroke-width="1"/><line x1="40.20" y1="60.50" x2="41.70" y2="60.50" stroke="#262626" stroke-width="1"/><line x1="162.00" y1="60.50" x2="163.50" y2="60.50" stroke="#262626" stroke-width="1"/><line x1="40.20" y1="83.40" x2="41.70" y2="83.40" stroke="#262626" stroke-width="1"/><line x1="162.00" y1="83.40" x2="163.50" y2="83.40" stroke="#262626" stroke-width="1"/><line x1="40.20" y1="106.30" x2="41.70" y2="106.30" stroke="#262626" stroke-width="1"/><line x1="162.00" y1="106.30" x2="163.50" y2="106.30" stroke="#262626" stroke-width="1"/><line x1="40.20" y1="118.70" x2="40.20" y2="120.20" stroke="#262626" stroke-width="1"/><line x1="40.20" y1="32.80" x2="40.20" y2="34.30" stroke="#262626" stroke-width="1"/><line x1="94.30" y1="118.70" x2="94.30" y2="120.20" stroke="#262626" stroke-width="1"/><line x1="94.30" y1="32.80" x2="94.30" y2="34.30" stroke="#262626" stroke-width="1"/><line x1="148.40" y1="118.70" x2="148.40" y2="120.20" stroke="#262626" stroke-width="1"/><line x1="148.40" y1="32.80" x2="148.40" y2="34.30" stroke="#262626" stroke-width="1"/><line x1="256.60" y1="32.80" x2="256.60" y2="120.20" stroke="#303030" stroke-width="1" stroke-dasharray="4.7 3.1" stroke-dashoffset="2.60"/><rect x="202.50" y="32.80" width="123.30" height="87.40" fill="none" stroke="#606060" stroke-width="1"/><line x1="202.50" y1="37.60" x2="204.00" y2="37.60" stroke="#262626" stroke-width="1"/><line x1="324.30" y1="37.60" x2="325.80" y2="37.60" stroke="#262626" stroke-width="1"/><line x1="202.50" y1="60.50" x2="204.00" y2="60.50" stroke="#262626" stroke-width="1"/><line x1="324.30" y1="60.50" x2="325.80" y2="60.50" stroke="#262626" stroke-width="1"/><line x1="202.50" y1="83.40" x2="204.00" y2="83.40" stroke="#262626" stroke-width="1"/><line x1="324.30" y1="83.40" x2="325.80" y2="83.40" stroke="#262626" stroke-width="1"/><line x1="202.50" y1="106.30" x2="204.00" y2="106.30" stroke="#262626" stroke-width="1"/><line x1="324.30" y1="106.30" x2="325.80" y2="106.30" stroke="#262626" stroke-width="1"/><line x1="202.50" y1="118.70" x2="202.50" y2="120.20" stroke="#262626" stroke-width="1"/><line x1="202.50" y1="32.80" x2="202.50" y2="34.30" stroke="#262626" stroke-width="1"/><line x1="256.60" y1="118.70" x2="256.60" y2="120.20" stroke="#262626" stroke-width="1"/><line x1="256.60" y1="32.80" x2="256.60" y2="34.30" stroke="#262626" stroke-width="1"/><line x1="310.70" y1="118.70" x2="310.70" y2="120.20" stroke="#262626" stroke-width="1"/><line x1="310.70" y1="32.80" x2="310.70" y2="34.30" stroke="#262626" stroke-width="1"/><line x1="419.00" y1="32.80" x2="419.00" y2="120.20" stroke="#303030" stroke-width="1" stroke-dasharray="4.7 3.1" stroke-dashoffset="2.60"/><rect x="364.90" y="32.80" width="123.30" height="87.40" fill="none" stroke="#606060" stroke-width="1"/><line x1="364.90" y1="37.60" x2="366.40" y2="37.60" stroke="#262626" stroke-width="1"/><line x1="486.70" y1="37.60" x2="488.20" y2="37.60" stroke="#262626" stroke-width="1"/><line x1="364.90" y1="60.50" x2="366.40" y2="60.50" stroke="#262626" stroke-width="1"/><line x1="486.70" y1="60.50" x2="488.20" y2="60.50" stroke="#262626" stroke-width="1"/><line x1="364.90" y1="83.40" x2="366.40" y2="83.40" stroke="#262626" stroke-width="1"/><line x1="486.70" y1="83.40" x2="488.20" y2="83.40" stroke="#262626" stroke-width="1"/><line x1="364.90" y1="106.30" x2="366.40" y2="106.30" stroke="#262626" stroke-width="1"/><line x1="486.70" y1="106.30" x2="488.20" y2="106.30" stroke="#262626" stroke-width="1"/><line x1="364.90" y1="118.70" x2="364.90" y2="120.20" stroke="#262626" stroke-width="1"/><line x1="364.90" y1="32.80" x2="364.90" y2="34.30" stroke="#262626" stroke-width="1"/><line x1="419.00" y1="118.70" x2="419.00" y2="120.20" stroke="#262626" stroke-width="1"/><line x1="419.00" y1="32.80" x2="419.00" y2="34.30" stroke="#262626" stroke-width="1"/><line x1="473.10" y1="118.70" x2="473.10" y2="120.20" stroke="#262626" stroke-width="1"/><line x1="473.10" y1="32.80" x2="473.10" y2="34.30" stroke="#262626" stroke-width="1"/><line x1="94.30" y1="126.60" x2="94.30" y2="213.60" stroke="#303030" stroke-width="1" stroke-dasharray="4.7 3.1" stroke-dashoffset="2.80"/><rect x="40.20" y="126.60" width="123.30" height="87.00" fill="none" stroke="#606060" stroke-width="1"/><line x1="40.20" y1="138.50" x2="41.70" y2="138.50" stroke="#262626" stroke-width="1"/><line x1="162.00" y1="138.50" x2="163.50" y2="138.50" stroke="#262626" stroke-width="1"/><line x1="40.20" y1="154.40" x2="41.70" y2="154.40" stroke="#262626" stroke-width="1"/><line x1="162.00" y1="154.40" x2="163.50" y2="154.40" stroke="#262626" stroke-width="1"/><line x1="40.20" y1="170.30" x2="41.70" y2="170.30" stroke="#262626" stroke-width="1"/><line x1="162.00" y1="170.30" x2="163.50" y2="170.30" stroke="#262626" stroke-width="1"/><line x1="40.20" y1="186.10" x2="41.70" y2="186.10" stroke="#262626" stroke-width="1"/><line x1="162.00" y1="186.10" x2="163.50" y2="186.10" stroke="#262626" stroke-width="1"/><line x1="40.20" y1="202.00" x2="41.70" y2="202.00" stroke="#262626" stroke-width="1"/><line x1="162.00" y1="202.00" x2="163.50" y2="202.00" stroke="#262626" stroke-width="1"/><line x1="40.20" y1="212.10" x2="40.20" y2="213.60" stroke="#262626" stroke-width="1"/><line x1="40.20" y1="126.60" x2="40.20" y2="128.10" stroke="#262626" stroke-width="1"/><line x1="94.30" y1="212.10" x2="94.30" y2="213.60" stroke="#262626" stroke-width="1"/><line x1="94.30" y1="126.60" x2="94.30" y2="128.10" stroke="#262626" stroke-width="1"/><line x1="148.40" y1="212.10" x2="148.40" y2="213.60" stroke="#262626" stroke-width="1"/><line x1="148.40" y1="126.60" x2="148.40" y2="128.10" stroke="#262626" stroke-width="1"/><line x1="256.60" y1="126.60" x2="256.60" y2="213.60" stroke="#303030" stroke-width="1" stroke-dasharray="4.7 3.1" stroke-dashoffset="2.80"/><rect x="202.50" y="126.60" width="123.30" height="87.00" fill="none" stroke="#606060" stroke-width="1"/><line x1="202.50" y1="138.50" x2="204.00" y2="138.50" stroke="#262626" stroke-width="1"/><line x1="324.30" y1="138.50" x2="325.80" y2="138.50" stroke="#262626" stroke-width="1"/><line x1="202.50" y1="154.40" x2="204.00" y2="154.40" stroke="#262626" stroke-width="1"/><line x1="324.30" y1="154.40" x2="325.80" y2="154.40" stroke="#262626" stroke-width="1"/><line x1="202.50" y1="170.30" x2="204.00" y2="170.30" stroke="#262626" stroke-width="1"/><line x1="324.30" y1="170.30" x2="325.80" y2="170.30" stroke="#262626" stroke-width="1"/><line x1="202.50" y1="186.10" x2="204.00" y2="186.10" stroke="#262626" stroke-width="1"/><line x1="324.30" y1="186.10" x2="325.80" y2="186.10" stroke="#262626" stroke-width="1"/><line x1="202.50" y1="202.00" x2="204.00" y2="202.00" stroke="#262626" stroke-width="1"/><line x1="324.30" y1="202.00" x2="325.80" y2="202.00" stroke="#262626" stroke-width="1"/><line x1="202.50" y1="212.10" x2="202.50" y2="213.60" stroke="#262626" stroke-width="1"/><line x1="202.50" y1="126.60" x2="202.50" y2="128.10" stroke="#262626" stroke-width="1"/><line x1="256.60" y1="212.10" x2="256.60" y2="213.60" stroke="#262626" stroke-width="1"/><line x1="256.60" y1="126.60" x2="256.60" y2="128.10" stroke="#262626" stroke-width="1"/><line x1="310.70" y1="212.10" x2="310.70" y2="213.60" stroke="#262626" stroke-width="1"/><line x1="310.70" y1="126.60" x2="310.70" y2="128.10" stroke="#262626" stroke-width="1"/><line x1="419.00" y1="126.60" x2="419.00" y2="213.60" stroke="#303030" stroke-width="1" stroke-dasharray="4.7 3.1" stroke-dashoffset="2.80"/><rect x="364.90" y="126.60" width="123.30" height="87.00" fill="none" stroke="#606060" stroke-width="1"/><line x1="364.90" y1="138.50" x2="366.40" y2="138.50" stroke="#262626" stroke-width="1"/><line x1="486.70" y1="138.50" x2="488.20" y2="138.50" stroke="#262626" stroke-width="1"/><line x1="364.90" y1="154.40" x2="366.40" y2="154.40" stroke="#262626" stroke-width="1"/><line x1="486.70" y1="154.40" x2="488.20" y2="154.40" stroke="#262626" stroke-width="1"/><line x1="364.90" y1="170.30" x2="366.40" y2="170.30" stroke="#262626" stroke-width="1"/><line x1="486.70" y1="170.30" x2="488.20" y2="170.30" stroke="#262626" stroke-width="1"/><line x1="364.90" y1="186.10" x2="366.40" y2="186.10" stroke="#262626" stroke-width="1"/><line x1="486.70" y1="186.10" x2="488.20" y2="186.10" stroke="#262626" stroke-width="1"/><line x1="364.90" y1="202.00" x2="366.40" y2="202.00" stroke="#262626" stroke-width="1"/><line x1="486.70" y1="202.00" x2="488.20" y2="202.00" stroke="#262626" stroke-width="1"/><line x1="364.90" y1="212.10" x2="364.90" y2="213.60" stroke="#262626" stroke-width="1"/><line x1="364.90" y1="126.60" x2="364.90" y2="128.10" stroke="#262626" stroke-width="1"/><line x1="419.00" y1="212.10" x2="419.00" y2="213.60" stroke="#262626" stroke-width="1"/><line x1="419.00" y1="126.60" x2="419.00" y2="128.10" stroke="#262626" stroke-width="1"/><line x1="473.10" y1="212.10" x2="473.10" y2="213.60" stroke="#262626" stroke-width="1"/><line x1="473.10" y1="126.60" x2="473.10" y2="128.10" stroke="#262626" stroke-width="1"/><line x1="94.30" y1="255.90" x2="94.30" y2="342.30" stroke="#303030" stroke-width="1" stroke-dasharray="4.7 3.1" stroke-dashoffset="7.30"/><rect x="40.20" y="255.90" width="123.30" height="86.40" fill="none" stroke="#606060" stroke-width="1"/><line x1="40.20" y1="260.70" x2="41.70" y2="260.70" stroke="#262626" stroke-width="1"/><line x1="162.00" y1="260.70" x2="163.50" y2="260.70" stroke="#262626" stroke-width="1"/><line x1="40.20" y1="283.60" x2="41.70" y2="283.60" stroke="#262626" stroke-width="1"/><line x1="162.00" y1="283.60" x2="163.50" y2="283.60" stroke="#262626" stroke-width="1"/><line x1="40.20" y1="306.50" x2="41.70" y2="306.50" stroke="#262626" stroke-width="1"/><line x1="162.00" y1="306.50" x2="163.50" y2="306.50" stroke="#262626" stroke-width="1"/><line x1="40.20" y1="329.40" x2="41.70" y2="329.40" stroke="#262626" stroke-width="1"/><line x1="162.00" y1="329.40" x2="163.50" y2="329.40" stroke="#262626" stroke-width="1"/><line x1="40.20" y1="340.80" x2="40.20" y2="342.30" stroke="#262626" stroke-width="1"/><line x1="40.20" y1="255.90" x2="40.20" y2="257.40" stroke="#262626" stroke-width="1"/><line x1="94.30" y1="340.80" x2="94.30" y2="342.30" stroke="#262626" stroke-width="1"/><line x1="94.30" y1="255.90" x2="94.30" y2="257.40" stroke="#262626" stroke-width="1"/><line x1="148.40" y1="340.80" x2="148.40" y2="342.30" stroke="#262626" stroke-width="1"/><line x1="148.40" y1="255.90" x2="148.40" y2="257.40" stroke="#262626" stroke-width="1"/><line x1="256.60" y1="255.90" x2="256.60" y2="342.30" stroke="#303030" stroke-width="1" stroke-dasharray="4.7 3.1" stroke-dashoffset="7.30"/><rect x="202.50" y="255.90" width="123.30" height="86.40" fill="none" stroke="#606060" stroke-width="1"/><line x1="202.50" y1="260.70" x2="204.00" y2="260.70" stroke="#262626" stroke-width="1"/><line x1="324.30" y1="260.70" x2="325.80" y2="260.70" stroke="#262626" stroke-width="1"/><line x1="202.50" y1="283.60" x2="204.00" y2="283.60" stroke="#262626" stroke-width="1"/><line x1="324.30" y1="283.60" x2="325.80" y2="283.60" stroke="#262626" stroke-width="1"/><line x1="202.50" y1="306.50" x2="204.00" y2="306.50" stroke="#262626" stroke-width="1"/><line x1="324.30" y1="306.50" x2="325.80" y2="306.50" stroke="#262626" stroke-width="1"/><line x1="202.50" y1="329.40" x2="204.00" y2="329.40" stroke="#262626" stroke-width="1"/><line x1="324.30" y1="329.40" x2="325.80" y2="329.40" stroke="#262626" stroke-width="1"/><line x1="202.50" y1="340.80" x2="202.50" y2="342.30" stroke="#262626" stroke-width="1"/><line x1="202.50" y1="255.90" x2="202.50" y2="257.40" stroke="#262626" stroke-width="1"/><line x1="256.60" y1="340.80" x2="256.60" y2="342.30" stroke="#262626" stroke-width="1"/><line x1="256.60" y1="255.90" x2="256.60" y2="257.40" stroke="#262626" stroke-width="1"/><line x1="310.70" y1="340.80" x2="310.70" y2="342.30" stroke="#262626" stroke-width="1"/><line x1="310.70" y1="255.90" x2="310.70" y2="257.40" stroke="#262626" stroke-width="1"/><line x1="419.00" y1="255.90" x2="419.00" y2="342.30" stroke="#303030" stroke-width="1" stroke-dasharray="4.7 3.1" stroke-dashoffset="7.30"/><rect x="364.90" y="255.90" width="123.30" height="86.40" fill="none" stroke="#606060" stroke-width="1"/><line x1="364.90" y1="260.70" x2="366.40" y2="260.70" stroke="#262626" stroke-width="1"/><line x1="486.70" y1="260.70" x2="488.20" y2="260.70" stroke="#262626" stroke-width="1"/><line x1="364.90" y1="283.60" x2="366.40" y2="283.60" stroke="#262626" stroke-width="1"/><line x1="486.70" y1="283.60" x2="488.20" y2="283.60" stroke="#262626" stroke-width="1"/><line x1="364.90" y1="306.50" x2="366.40" y2="306.50" stroke="#262626" stroke-width="1"/><line x1="486.70" y1="306.50" x2="488.20" y2="306.50" stroke="#262626" stroke-width="1"/><line x1="364.90" y1="329.40" x2="366.40" y2="329.40" stroke="#262626" stroke-width="1"/><line x1="486.70" y1="329.40" x2="488.20" y2="329.40" stroke="#262626" stroke-width="1"/><line x1="364.90" y1="340.80" x2="364.90" y2="342.30" stroke="#262626" stroke-width="1"/><line x1="364.90" y1="255.90" x2="364.90" y2="257.40" stroke="#262626" stroke-width="1"/><line x1="419.00" y1="340.80" x2="419.00" y2="342.30" stroke="#262626" stroke-width="1"/><line x1="419.00" y1="255.90" x2="419.00" y2="257.40" stroke="#262626" stroke-width="1"/><line x1="473.10" y1="340.80" x2="473.10" y2="342.30" stroke="#262626" stroke-width="1"/><line x1="473.10" y1="255.90" x2="473.10" y2="257.40" stroke="#262626" stroke-width="1"/><line x1="93.60" y1="348.30" x2="93.60" y2="435.40" stroke="#303030" stroke-width="1" stroke-dasharray="4.7 3.1" stroke-dashoffset="6.10"/><rect x="39.50" y="348.30" width="123.30" height="87.10" fill="none" stroke="#606060" stroke-width="1"/><line x1="39.50" y1="360.20" x2="41.00" y2="360.20" stroke="#262626" stroke-width="1"/><line x1="161.30" y1="360.20" x2="162.80" y2="360.20" stroke="#262626" stroke-width="1"/><line x1="39.50" y1="376.10" x2="41.00" y2="376.10" stroke="#262626" stroke-width="1"/><line x1="161.30" y1="376.10" x2="162.80" y2="376.10" stroke="#262626" stroke-width="1"/><line x1="39.50" y1="392.00" x2="41.00" y2="392.00" stroke="#262626" stroke-width="1"/><line x1="161.30" y1="392.00" x2="162.80" y2="392.00" stroke="#262626" stroke-width="1"/><line x1="39.50" y1="407.80" x2="41.00" y2="407.80" stroke="#262626" stroke-width="1"/><line x1="161.30" y1="407.80" x2="162.80" y2="407.80" stroke="#262626" stroke-width="1"/><line x1="39.50" y1="423.70" x2="41.00" y2="423.70" stroke="#262626" stroke-width="1"/><line x1="161.30" y1="423.70" x2="162.80" y2="423.70" stroke="#262626" stroke-width="1"/><line x1="39.50" y1="433.90" x2="39.50" y2="435.40" stroke="#262626" stroke-width="1"/><line x1="39.50" y1="348.30" x2="39.50" y2="349.80" stroke="#262626" stroke-width="1"/><line x1="93.60" y1="433.90" x2="93.60" y2="435.40" stroke="#262626" stroke-width="1"/><line x1="93.60" y1="348.30" x2="93.60" y2="349.80" stroke="#262626" stroke-width="1"/><line x1="147.70" y1="433.90" x2="147.70" y2="435.40" stroke="#262626" stroke-width="1"/><line x1="147.70" y1="348.30" x2="147.70" y2="349.80" stroke="#262626" stroke-width="1"/><line x1="255.90" y1="348.30" x2="255.90" y2="435.40" stroke="#303030" stroke-width="1" stroke-dasharray="4.7 3.1" stroke-dashoffset="6.10"/><rect x="201.80" y="348.30" width="123.30" height="87.10" fill="none" stroke="#606060" stroke-width="1"/><line x1="201.80" y1="360.20" x2="203.30" y2="360.20" stroke="#262626" stroke-width="1"/><line x1="323.60" y1="360.20" x2="325.10" y2="360.20" stroke="#262626" stroke-width="1"/><line x1="201.80" y1="376.10" x2="203.30" y2="376.10" stroke="#262626" stroke-width="1"/><line x1="323.60" y1="376.10" x2="325.10" y2="376.10" stroke="#262626" stroke-width="1"/><line x1="201.80" y1="392.00" x2="203.30" y2="392.00" stroke="#262626" stroke-width="1"/><line x1="323.60" y1="392.00" x2="325.10" y2="392.00" stroke="#262626" stroke-width="1"/><line x1="201.80" y1="407.80" x2="203.30" y2="407.80" stroke="#262626" stroke-width="1"/><line x1="323.60" y1="407.80" x2="325.10" y2="407.80" stroke="#262626" stroke-width="1"/><line x1="201.80" y1="423.70" x2="203.30" y2="423.70" stroke="#262626" stroke-width="1"/><line x1="323.60" y1="423.70" x2="325.10" y2="423.70" stroke="#262626" stroke-width="1"/><line x1="201.80" y1="433.90" x2="201.80" y2="435.40" stroke="#262626" stroke-width="1"/><line x1="201.80" y1="348.30" x2="201.80" y2="349.80" stroke="#262626" stroke-width="1"/><line x1="255.90" y1="433.90" x2="255.90" y2="435.40" stroke="#262626" stroke-width="1"/><line x1="255.90" y1="348.30" x2="255.90" y2="349.80" stroke="#262626" stroke-width="1"/><line x1="310.00" y1="433.90" x2="310.00" y2="435.40" stroke="#262626" stroke-width="1"/><line x1="310.00" y1="348.30" x2="310.00" y2="349.80" stroke="#262626" stroke-width="1"/><line x1="418.30" y1="348.30" x2="418.30" y2="435.40" stroke="#303030" stroke-width="1" stroke-dasharray="4.7 3.1" stroke-dashoffset="6.10"/><rect x="364.20" y="348.30" width="123.30" height="87.10" fill="none" stroke="#606060" stroke-width="1"/><line x1="364.20" y1="360.20" x2="365.70" y2="360.20" stroke="#262626" stroke-width="1"/><line x1="486.00" y1="360.20" x2="487.50" y2="360.20" stroke="#262626" stroke-width="1"/><line x1="364.20" y1="376.10" x2="365.70" y2="376.10" stroke="#262626" stroke-width="1"/><line x1="486.00" y1="376.10" x2="487.50" y2="376.10" stroke="#262626" stroke-width="1"/><line x1="364.20" y1="392.00" x2="365.70" y2="392.00" stroke="#262626" stroke-width="1"/><line x1="486.00" y1="392.00" x2="487.50" y2="392.00" stroke="#262626" stroke-width="1"/><line x1="364.20" y1="407.80" x2="365.70" y2="407.80" stroke="#262626" stroke-width="1"/><line x1="486.00" y1="407.80" x2="487.50" y2="407.80" stroke="#262626" stroke-width="1"/><line x1="364.20" y1="423.70" x2="365.70" y2="423.70" stroke="#262626" stroke-width="1"/><line x1="486.00" y1="423.70" x2="487.50" y2="423.70" stroke="#262626" stroke-width="1"/><line x1="364.20" y1="433.90" x2="364.20" y2="435.40" stroke="#262626" stroke-width="1"/><line x1="364.20" y1="348.30" x2="364.20" y2="349.80" stroke="#262626" stroke-width="1"/><line x1="418.30" y1="433.90" x2="418.30" y2="435.40" stroke="#262626" stroke-width="1"/><line x1="418.30" y1="348.30" x2="418.30" y2="349.80" stroke="#262626" stroke-width="1"/><line x1="472.40" y1="433.90" x2="472.40" y2="435.40" stroke="#262626" stroke-width="1"/><line x1="472.40" y1="348.30" x2="472.40" y2="349.80" stroke="#262626" stroke-width="1"/><rect x="500.30" y="34.40" width="15.60" height="402.80" fill="none" stroke="#606060" stroke-width="1"/><line x1="514.40" y1="34.40" x2="515.90" y2="34.40" stroke="#262626" stroke-width="1"/><line x1="514.40" y1="84.75" x2="515.90" y2="84.75" stroke="#262626" stroke-width="1"/><line x1="514.40" y1="135.10" x2="515.90" y2="135.10" stroke="#262626" stroke-width="1"/><line x1="514.40" y1="185.45" x2="515.90" y2="185.45" stroke="#262626" stroke-width="1"/><line x1="514.40" y1="235.80" x2="515.90" y2="235.80" stroke="#262626" stroke-width="1"/><line x1="514.40" y1="286.15" x2="515.90" y2="286.15" stroke="#262626" stroke-width="1"/><line x1="514.40" y1="336.50" x2="515.90" y2="336.50" stroke="#262626" stroke-width="1"/><line x1="514.40" y1="386.85" x2="515.90" y2="386.85" stroke="#262626" stroke-width="1"/><line x1="514.40" y1="437.20" x2="515.90" y2="437.20" stroke="#262626" stroke-width="1"/></g>
<g><text x="35.90" y="42.00" font-size="12.2" text-anchor="end" font-weight="normal" >90</text><text x="35.90" y="64.90" font-size="12.2" text-anchor="end" font-weight="normal" >80</text><text x="35.90" y="87.80" font-size="12.2" text-anchor="end" font-weight="normal" >70</text><text x="35.90" y="110.70" font-size="12.2" text-anchor="end" font-weight="normal" >60</text><text x="198.20" y="42.00" font-size="12.2" text-anchor="end" font-weight="normal" >90</text><text x="198.20" y="64.90" font-size="12.2" text-anchor="end" font-weight="normal" >80</text><text x="198.20" y="87.80" font-size="12.2" text-anchor="end" font-weight="normal" >70</text><text x="198.20" y="110.70" font-size="12.2" text-anchor="end" font-weight="normal" >60</text><text x="360.60" y="42.00" font-size="12.2" text-anchor="end" font-weight="normal" >90</text><text x="360.60" y="64.90" font-size="12.2" text-anchor="end" font-weight="normal" >80</text><text x="360.60" y="87.80" font-size="12.2" text-anchor="end" font-weight="normal" >70</text><text x="360.60" y="110.70" font-size="12.2" text-anchor="end" font-weight="normal" >60</text><text x="6.10" y="73.30" font-size="14" text-anchor="middle" font-weight="normal" transform="rotate(-90 6.1 73.30)" dy="5">Hz</text><text x="35.90" y="142.90" font-size="12.2" text-anchor="end" font-weight="normal" >28</text><text x="35.90" y="158.80" font-size="12.2" text-anchor="end" font-weight="normal" >24</text><text x="35.90" y="174.70" font-size="12.2" text-anchor="end" font-weight="normal" >20</text><text x="35.90" y="190.50" font-size="12.2" text-anchor="end" font-weight="normal" >16</text><text x="35.90" y="206.40" font-size="12.2" text-anchor="end" font-weight="normal" >12</text><text x="198.20" y="142.90" font-size="12.2" text-anchor="end" font-weight="normal" >28</text><text x="198.20" y="158.80" font-size="12.2" text-anchor="end" font-weight="normal" >24</text><text x="198.20" y="174.70" font-size="12.2" text-anchor="end" font-weight="normal" >20</text><text x="198.20" y="190.50" font-size="12.2" text-anchor="end" font-weight="normal" >16</text><text x="198.20" y="206.40" font-size="12.2" text-anchor="end" font-weight="normal" >12</text><text x="360.60" y="142.90" font-size="12.2" text-anchor="end" font-weight="normal" >28</text><text x="360.60" y="158.80" font-size="12.2" text-anchor="end" font-weight="normal" >24</text><text x="360.60" y="174.70" font-size="12.2" text-anchor="end" font-weight="normal" >20</text><text x="360.60" y="190.50" font-size="12.2" text-anchor="end" font-weight="normal" >16</text><text x="360.60" y="206.40" font-size="12.2" text-anchor="end" font-weight="normal" >12</text><text x="6.10" y="166.90" font-size="14" text-anchor="middle" font-weight="normal" transform="rotate(-90 6.1 166.90)" dy="5">Hz</text><text x="35.90" y="265.10" font-size="12.2" text-anchor="end" font-weight="normal" >90</text><text x="35.90" y="288.00" font-size="12.2" text-anchor="end" font-weight="normal" >80</text><text x="35.90" y="310.90" font-size="12.2" text-anchor="end" font-weight="normal" >70</text><text x="35.90" y="333.80" font-size="12.2" text-anchor="end" font-weight="normal" >60</text><text x="198.20" y="265.10" font-size="12.2" text-anchor="end" font-weight="normal" >90</text><text x="198.20" y="288.00" font-size="12.2" text-anchor="end" font-weight="normal" >80</text><text x="198.20" y="310.90" font-size="12.2" text-anchor="end" font-weight="normal" >70</text><text x="198.20" y="333.80" font-size="12.2" text-anchor="end" font-weight="normal" >60</text><text x="360.60" y="265.10" font-size="12.2" text-anchor="end" font-weight="normal" >90</text><text x="360.60" y="288.00" font-size="12.2" text-anchor="end" font-weight="normal" >80</text><text x="360.60" y="310.90" font-size="12.2" text-anchor="end" font-weight="normal" >70</text><text x="360.60" y="333.80" font-size="12.2" text-anchor="end" font-weight="normal" >60</text><text x="6.10" y="295.90" font-size="14" text-anchor="middle" font-weight="normal" transform="rotate(-90 6.1 295.90)" dy="5">Hz</text><text x="35.20" y="364.60" font-size="12.2" text-anchor="end" font-weight="normal" >28</text><text x="35.20" y="380.50" font-size="12.2" text-anchor="end" font-weight="normal" >24</text><text x="35.20" y="396.40" font-size="12.2" text-anchor="end" font-weight="normal" >20</text><text x="35.20" y="412.20" font-size="12.2" text-anchor="end" font-weight="normal" >16</text><text x="35.20" y="428.10" font-size="12.2" text-anchor="end" font-weight="normal" >12</text><text x="38.80" y="451.60" font-size="12.5" text-anchor="middle" font-weight="normal" >-2</text><text x="92.90" y="451.60" font-size="12.5" text-anchor="middle" font-weight="normal" >0</text><text x="147.00" y="451.60" font-size="12.5" text-anchor="middle" font-weight="normal" >2</text><text x="197.50" y="364.60" font-size="12.2" text-anchor="end" font-weight="normal" >28</text><text x="197.50" y="380.50" font-size="12.2" text-anchor="end" font-weight="normal" >24</text><text x="197.50" y="396.40" font-size="12.2" text-anchor="end" font-weight="normal" >20</text><text x="197.50" y="412.20" font-size="12.2" text-anchor="end" font-weight="normal" >16</text><text x="197.50" y="428.10" font-size="12.2" text-anchor="end" font-weight="normal" >12</text><text x="201.10" y="451.60" font-size="12.5" text-anchor="middle" font-weight="normal" >-2</text><text x="255.20" y="451.60" font-size="12.5" text-anchor="middle" font-weight="normal" >0</text><text x="309.30" y="451.60" font-size="12.5" text-anchor="middle" font-weight="normal" >2</text><text x="359.90" y="364.60" font-size="12.2" text-anchor="end" font-weight="normal" >28</text><text x="359.90" y="380.50" font-size="12.2" text-anchor="end" font-weight="normal" >24</text><text x="359.90" y="396.40" font-size="12.2" text-anchor="end" font-weight="normal" >20</text><text x="359.90" y="412.20" font-size="12.2" text-anchor="end" font-weight="normal" >16</text><text x="359.90" y="428.10" font-size="12.2" text-anchor="end" font-weight="normal" >12</text><text x="363.50" y="451.60" font-size="12.5" text-anchor="middle" font-weight="normal" >-2</text><text x="417.60" y="451.60" font-size="12.5" text-anchor="middle" font-weight="normal" >0</text><text x="471.70" y="451.60" font-size="12.5" text-anchor="middle" font-weight="normal" >2</text><text x="6.10" y="388.65" font-size="14" text-anchor="middle" font-weight="normal" transform="rotate(-90 6.1 388.65)" dy="5">Hz</text><text x="262.00" y="11.50" font-size="14" text-anchor="middle" font-weight="bold" style="fill:#0d0d0d">Executed gripping</text><text x="102.00" y="27.50" font-size="14" text-anchor="middle" font-weight="normal" style="fill:#0d0d0d">Light force</text><text x="266.50" y="27.50" font-size="14" text-anchor="middle" font-weight="normal" style="fill:#0d0d0d">Medium force</text><text x="430.50" y="27.50" font-size="14" text-anchor="middle" font-weight="normal" style="fill:#0d0d0d">Strong force</text><text x="261.20" y="246.50" font-size="14" text-anchor="middle" font-weight="bold" style="fill:#0d0d0d">Imagined gripping</text><text x="263.50" y="466.20" font-size="13.7" text-anchor="middle" font-weight="bold" style="fill:#0d0d0d">time [s]</text><text x="522.00" y="37.80" font-size="12.5" text-anchor="start" font-weight="normal" >20</text><text x="522.00" y="88.15" font-size="12.5" text-anchor="start" font-weight="normal" >15</text><text x="522.00" y="138.50" font-size="12.5" text-anchor="start" font-weight="normal" >10</text><text x="522.00" y="188.85" font-size="12.5" text-anchor="start" font-weight="normal" >5</text><text x="522.00" y="239.20" font-size="12.5" text-anchor="start" font-weight="normal" >0</text><text x="522.00" y="289.55" font-size="12.5" text-anchor="start" font-weight="normal" >-5</text><text x="522.00" y="339.90" font-size="12.5" text-anchor="start" font-weight="normal" >-10</text><text x="522.00" y="390.25" font-size="12.5" text-anchor="start" font-weight="normal" >-15</text><text x="522.00" y="440.60" font-size="12.5" text-anchor="start" font-weight="normal" >-20</text><text x="548.50" y="234.30" font-size="14.5" text-anchor="middle" font-weight="normal" transform="rotate(-90 548.5 234.3)" dy="5">Relative power change [%]</text></g>
</svg></body></html>
